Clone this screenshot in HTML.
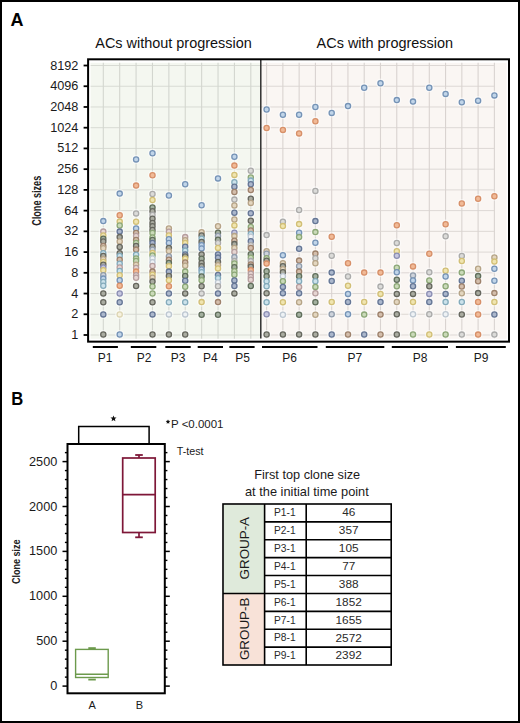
<!DOCTYPE html>
<html><head><meta charset="utf-8"><style>
html,body{margin:0;padding:0;background:#fff;width:520px;height:723px;overflow:hidden;font-family:"Liberation Sans",sans-serif;}
</style></head><body>
<svg width="520" height="723" viewBox="0 0 520 723" style="display:block">
<rect x="0" y="0" width="520" height="723" fill="#fff"/>
<rect x="90.6" y="62.8" width="170" height="276" fill="#f4f7f0"/>
<rect x="260.8" y="62.8" width="245.8" height="276" fill="#faf6f3"/>
<line x1="90.6" y1="335.00" x2="260" y2="335.00" stroke="#d8dbd4" stroke-width="1"/><line x1="261" y1="335.00" x2="494.38" y2="335.00" stroke="#ddd8d5" stroke-width="1"/><line x1="90.6" y1="314.27" x2="260" y2="314.27" stroke="#d8dbd4" stroke-width="1"/><line x1="261" y1="314.27" x2="494.38" y2="314.27" stroke="#ddd8d5" stroke-width="1"/><line x1="90.6" y1="293.54" x2="260" y2="293.54" stroke="#d8dbd4" stroke-width="1"/><line x1="261" y1="293.54" x2="494.38" y2="293.54" stroke="#ddd8d5" stroke-width="1"/><line x1="90.6" y1="272.81" x2="260" y2="272.81" stroke="#d8dbd4" stroke-width="1"/><line x1="261" y1="272.81" x2="494.38" y2="272.81" stroke="#ddd8d5" stroke-width="1"/><line x1="90.6" y1="252.08" x2="260" y2="252.08" stroke="#d8dbd4" stroke-width="1"/><line x1="261" y1="252.08" x2="494.38" y2="252.08" stroke="#ddd8d5" stroke-width="1"/><line x1="90.6" y1="231.35" x2="260" y2="231.35" stroke="#d8dbd4" stroke-width="1"/><line x1="261" y1="231.35" x2="494.38" y2="231.35" stroke="#ddd8d5" stroke-width="1"/><line x1="90.6" y1="210.62" x2="260" y2="210.62" stroke="#d8dbd4" stroke-width="1"/><line x1="261" y1="210.62" x2="494.38" y2="210.62" stroke="#ddd8d5" stroke-width="1"/><line x1="90.6" y1="189.89" x2="260" y2="189.89" stroke="#d8dbd4" stroke-width="1"/><line x1="261" y1="189.89" x2="494.38" y2="189.89" stroke="#ddd8d5" stroke-width="1"/><line x1="90.6" y1="169.16" x2="260" y2="169.16" stroke="#d8dbd4" stroke-width="1"/><line x1="261" y1="169.16" x2="494.38" y2="169.16" stroke="#ddd8d5" stroke-width="1"/><line x1="90.6" y1="148.43" x2="260" y2="148.43" stroke="#d8dbd4" stroke-width="1"/><line x1="261" y1="148.43" x2="494.38" y2="148.43" stroke="#ddd8d5" stroke-width="1"/><line x1="90.6" y1="127.70" x2="260" y2="127.70" stroke="#d8dbd4" stroke-width="1"/><line x1="261" y1="127.70" x2="494.38" y2="127.70" stroke="#ddd8d5" stroke-width="1"/><line x1="90.6" y1="106.97" x2="260" y2="106.97" stroke="#d8dbd4" stroke-width="1"/><line x1="261" y1="106.97" x2="494.38" y2="106.97" stroke="#ddd8d5" stroke-width="1"/><line x1="90.6" y1="86.24" x2="260" y2="86.24" stroke="#d8dbd4" stroke-width="1"/><line x1="261" y1="86.24" x2="494.38" y2="86.24" stroke="#ddd8d5" stroke-width="1"/><line x1="90.6" y1="65.51" x2="260" y2="65.51" stroke="#d8dbd4" stroke-width="1"/><line x1="261" y1="65.51" x2="494.38" y2="65.51" stroke="#ddd8d5" stroke-width="1"/><line x1="103.30" y1="62.8" x2="103.30" y2="338.8" stroke="#d3d6cf" stroke-width="1.1"/><line x1="119.69" y1="62.8" x2="119.69" y2="338.8" stroke="#d3d6cf" stroke-width="1.1"/><line x1="136.08" y1="62.8" x2="136.08" y2="338.8" stroke="#d3d6cf" stroke-width="1.1"/><line x1="152.47" y1="62.8" x2="152.47" y2="338.8" stroke="#d3d6cf" stroke-width="1.1"/><line x1="168.86" y1="62.8" x2="168.86" y2="338.8" stroke="#d3d6cf" stroke-width="1.1"/><line x1="185.25" y1="62.8" x2="185.25" y2="338.8" stroke="#d3d6cf" stroke-width="1.1"/><line x1="201.64" y1="62.8" x2="201.64" y2="338.8" stroke="#d3d6cf" stroke-width="1.1"/><line x1="218.03" y1="62.8" x2="218.03" y2="338.8" stroke="#d3d6cf" stroke-width="1.1"/><line x1="234.42" y1="62.8" x2="234.42" y2="338.8" stroke="#d3d6cf" stroke-width="1.1"/><line x1="250.81" y1="62.8" x2="250.81" y2="338.8" stroke="#d3d6cf" stroke-width="1.1"/><line x1="266.60" y1="62.8" x2="266.60" y2="338.8" stroke="#d9d3d0" stroke-width="1.1"/><line x1="282.87" y1="62.8" x2="282.87" y2="338.8" stroke="#d9d3d0" stroke-width="1.1"/><line x1="299.14" y1="62.8" x2="299.14" y2="338.8" stroke="#d9d3d0" stroke-width="1.1"/><line x1="315.41" y1="62.8" x2="315.41" y2="338.8" stroke="#d9d3d0" stroke-width="1.1"/><line x1="331.68" y1="62.8" x2="331.68" y2="338.8" stroke="#d9d3d0" stroke-width="1.1"/><line x1="347.95" y1="62.8" x2="347.95" y2="338.8" stroke="#d9d3d0" stroke-width="1.1"/><line x1="364.22" y1="62.8" x2="364.22" y2="338.8" stroke="#d9d3d0" stroke-width="1.1"/><line x1="380.49" y1="62.8" x2="380.49" y2="338.8" stroke="#d9d3d0" stroke-width="1.1"/><line x1="396.76" y1="62.8" x2="396.76" y2="338.8" stroke="#d9d3d0" stroke-width="1.1"/><line x1="413.03" y1="62.8" x2="413.03" y2="338.8" stroke="#d9d3d0" stroke-width="1.1"/><line x1="429.30" y1="62.8" x2="429.30" y2="338.8" stroke="#d9d3d0" stroke-width="1.1"/><line x1="445.57" y1="62.8" x2="445.57" y2="338.8" stroke="#d9d3d0" stroke-width="1.1"/><line x1="461.84" y1="62.8" x2="461.84" y2="338.8" stroke="#d9d3d0" stroke-width="1.1"/><line x1="478.11" y1="62.8" x2="478.11" y2="338.8" stroke="#d9d3d0" stroke-width="1.1"/><line x1="494.38" y1="62.8" x2="494.38" y2="338.8" stroke="#d9d3d0" stroke-width="1.1"/>
<line x1="260.8" y1="59.5" x2="260.8" y2="338.6" stroke="#222" stroke-width="1.4"/>
<g fill="#fff" opacity="0.55"><circle cx="103.3" cy="221.1" r="4.6"/><circle cx="103.3" cy="231.6" r="4.6"/><circle cx="103.3" cy="235.5" r="4.6"/><circle cx="103.3" cy="238.8" r="4.6"/><circle cx="103.3" cy="241.5" r="4.6"/><circle cx="103.3" cy="246.0" r="4.6"/><circle cx="103.3" cy="248.2" r="4.6"/><circle cx="103.3" cy="253.2" r="4.6"/><circle cx="103.3" cy="256.0" r="4.6"/><circle cx="103.3" cy="259.2" r="4.6"/><circle cx="103.3" cy="262.0" r="4.6"/><circle cx="103.3" cy="264.8" r="4.6"/><circle cx="103.3" cy="267.5" r="4.6"/><circle cx="103.3" cy="270.3" r="4.6"/><circle cx="103.3" cy="275.3" r="4.6"/><circle cx="103.3" cy="278.6" r="4.6"/><circle cx="103.3" cy="282.0" r="4.6"/><circle cx="103.3" cy="285.8" r="4.6"/><circle cx="103.3" cy="293.5" r="4.6"/><circle cx="103.3" cy="302.3" r="4.6"/><circle cx="103.3" cy="314.4" r="4.6"/><circle cx="103.3" cy="334.5" r="4.6"/><circle cx="119.7" cy="193.6" r="4.6"/><circle cx="119.7" cy="215.2" r="4.6"/><circle cx="119.7" cy="221.6" r="4.6"/><circle cx="119.7" cy="225.5" r="4.6"/><circle cx="119.7" cy="231.6" r="4.6"/><circle cx="119.7" cy="237.1" r="4.6"/><circle cx="119.7" cy="241.5" r="4.6"/><circle cx="119.7" cy="247.0" r="4.6"/><circle cx="119.7" cy="253.2" r="4.6"/><circle cx="119.7" cy="256.0" r="4.6"/><circle cx="119.7" cy="259.8" r="4.6"/><circle cx="119.7" cy="263.7" r="4.6"/><circle cx="119.7" cy="267.5" r="4.6"/><circle cx="119.7" cy="270.9" r="4.6"/><circle cx="119.7" cy="275.3" r="4.6"/><circle cx="119.7" cy="280.3" r="4.6"/><circle cx="119.7" cy="285.8" r="4.6"/><circle cx="119.7" cy="293.5" r="4.6"/><circle cx="119.7" cy="302.3" r="4.6"/><circle cx="119.7" cy="314.4" r="4.6"/><circle cx="119.7" cy="334.5" r="4.6"/><circle cx="136.1" cy="159.4" r="4.6"/><circle cx="136.1" cy="185.6" r="4.6"/><circle cx="136.1" cy="213.4" r="4.6"/><circle cx="136.1" cy="221.8" r="4.6"/><circle cx="136.1" cy="228.4" r="4.6"/><circle cx="136.1" cy="233.0" r="4.6"/><circle cx="136.1" cy="236.0" r="4.6"/><circle cx="136.1" cy="239.9" r="4.6"/><circle cx="136.1" cy="243.0" r="4.6"/><circle cx="136.1" cy="246.0" r="4.6"/><circle cx="136.1" cy="249.6" r="4.6"/><circle cx="136.1" cy="254.8" r="4.6"/><circle cx="136.1" cy="258.5" r="4.6"/><circle cx="136.1" cy="261.0" r="4.6"/><circle cx="136.1" cy="264.8" r="4.6"/><circle cx="136.1" cy="267.9" r="4.6"/><circle cx="136.1" cy="271.6" r="4.6"/><circle cx="136.1" cy="275.3" r="4.6"/><circle cx="136.1" cy="277.8" r="4.6"/><circle cx="136.1" cy="286.0" r="4.6"/><circle cx="152.5" cy="153.2" r="4.6"/><circle cx="152.5" cy="175.2" r="4.6"/><circle cx="152.5" cy="194.0" r="4.6"/><circle cx="152.5" cy="200.0" r="4.6"/><circle cx="152.5" cy="207.5" r="4.6"/><circle cx="152.5" cy="211.2" r="4.6"/><circle cx="152.5" cy="215.0" r="4.6"/><circle cx="152.5" cy="218.7" r="4.6"/><circle cx="152.5" cy="223.0" r="4.6"/><circle cx="152.5" cy="226.2" r="4.6"/><circle cx="152.5" cy="229.9" r="4.6"/><circle cx="152.5" cy="233.0" r="4.6"/><circle cx="152.5" cy="237.4" r="4.6"/><circle cx="152.5" cy="239.9" r="4.6"/><circle cx="152.5" cy="243.0" r="4.6"/><circle cx="152.5" cy="246.7" r="4.6"/><circle cx="152.5" cy="249.8" r="4.6"/><circle cx="152.5" cy="253.0" r="4.6"/><circle cx="152.5" cy="255.4" r="4.6"/><circle cx="152.5" cy="258.5" r="4.6"/><circle cx="152.5" cy="262.3" r="4.6"/><circle cx="152.5" cy="266.0" r="4.6"/><circle cx="152.5" cy="271.6" r="4.6"/><circle cx="152.5" cy="274.7" r="4.6"/><circle cx="152.5" cy="277.8" r="4.6"/><circle cx="152.5" cy="281.6" r="4.6"/><circle cx="152.5" cy="286.5" r="4.6"/><circle cx="152.5" cy="293.5" r="4.6"/><circle cx="152.5" cy="302.3" r="4.6"/><circle cx="152.5" cy="314.4" r="4.6"/><circle cx="152.5" cy="334.5" r="4.6"/><circle cx="168.9" cy="195.5" r="4.6"/><circle cx="168.9" cy="228.5" r="4.6"/><circle cx="168.9" cy="231.7" r="4.6"/><circle cx="168.9" cy="235.5" r="4.6"/><circle cx="168.9" cy="239.3" r="4.6"/><circle cx="168.9" cy="243.0" r="4.6"/><circle cx="168.9" cy="247.9" r="4.6"/><circle cx="168.9" cy="251.1" r="4.6"/><circle cx="168.9" cy="256.5" r="4.6"/><circle cx="168.9" cy="259.8" r="4.6"/><circle cx="168.9" cy="263.0" r="4.6"/><circle cx="168.9" cy="266.2" r="4.6"/><circle cx="168.9" cy="271.6" r="4.6"/><circle cx="168.9" cy="276.0" r="4.6"/><circle cx="168.9" cy="280.3" r="4.6"/><circle cx="168.9" cy="286.2" r="4.6"/><circle cx="168.9" cy="293.5" r="4.6"/><circle cx="168.9" cy="302.3" r="4.6"/><circle cx="168.9" cy="314.4" r="4.6"/><circle cx="168.9" cy="334.5" r="4.6"/><circle cx="185.2" cy="184.2" r="4.6"/><circle cx="185.2" cy="237.1" r="4.6"/><circle cx="185.2" cy="240.3" r="4.6"/><circle cx="185.2" cy="243.0" r="4.6"/><circle cx="185.2" cy="246.8" r="4.6"/><circle cx="185.2" cy="250.6" r="4.6"/><circle cx="185.2" cy="254.4" r="4.6"/><circle cx="185.2" cy="256.5" r="4.6"/><circle cx="185.2" cy="258.7" r="4.6"/><circle cx="185.2" cy="262.5" r="4.6"/><circle cx="185.2" cy="265.7" r="4.6"/><circle cx="185.2" cy="271.6" r="4.6"/><circle cx="185.2" cy="276.0" r="4.6"/><circle cx="185.2" cy="280.8" r="4.6"/><circle cx="185.2" cy="286.7" r="4.6"/><circle cx="185.2" cy="293.5" r="4.6"/><circle cx="185.2" cy="302.3" r="4.6"/><circle cx="185.2" cy="314.4" r="4.6"/><circle cx="185.2" cy="334.5" r="4.6"/><circle cx="201.6" cy="205.3" r="4.6"/><circle cx="201.6" cy="232.2" r="4.6"/><circle cx="201.6" cy="235.5" r="4.6"/><circle cx="201.6" cy="238.7" r="4.6"/><circle cx="201.6" cy="242.0" r="4.6"/><circle cx="201.6" cy="245.2" r="4.6"/><circle cx="201.6" cy="248.4" r="4.6"/><circle cx="201.6" cy="254.4" r="4.6"/><circle cx="201.6" cy="258.7" r="4.6"/><circle cx="201.6" cy="263.0" r="4.6"/><circle cx="201.6" cy="266.2" r="4.6"/><circle cx="201.6" cy="269.5" r="4.6"/><circle cx="201.6" cy="272.2" r="4.6"/><circle cx="201.6" cy="276.5" r="4.6"/><circle cx="201.6" cy="280.3" r="4.6"/><circle cx="201.6" cy="286.2" r="4.6"/><circle cx="201.6" cy="293.4" r="4.6"/><circle cx="201.6" cy="302.1" r="4.6"/><circle cx="201.6" cy="314.7" r="4.6"/><circle cx="218.0" cy="178.4" r="4.6"/><circle cx="218.0" cy="226.3" r="4.6"/><circle cx="218.0" cy="232.8" r="4.6"/><circle cx="218.0" cy="236.0" r="4.6"/><circle cx="218.0" cy="239.8" r="4.6"/><circle cx="218.0" cy="243.0" r="4.6"/><circle cx="218.0" cy="247.9" r="4.6"/><circle cx="218.0" cy="254.4" r="4.6"/><circle cx="218.0" cy="257.6" r="4.6"/><circle cx="218.0" cy="262.0" r="4.6"/><circle cx="218.0" cy="265.2" r="4.6"/><circle cx="218.0" cy="268.4" r="4.6"/><circle cx="218.0" cy="274.9" r="4.6"/><circle cx="218.0" cy="278.1" r="4.6"/><circle cx="218.0" cy="282.4" r="4.6"/><circle cx="218.0" cy="286.2" r="4.6"/><circle cx="218.0" cy="293.4" r="4.6"/><circle cx="218.0" cy="302.1" r="4.6"/><circle cx="218.0" cy="314.7" r="4.6"/><circle cx="234.4" cy="156.7" r="4.6"/><circle cx="234.4" cy="165.6" r="4.6"/><circle cx="234.4" cy="174.9" r="4.6"/><circle cx="234.4" cy="182.2" r="4.6"/><circle cx="234.4" cy="186.8" r="4.6"/><circle cx="234.4" cy="192.0" r="4.6"/><circle cx="234.4" cy="199.6" r="4.6"/><circle cx="234.4" cy="205.5" r="4.6"/><circle cx="234.4" cy="212.8" r="4.6"/><circle cx="234.4" cy="219.5" r="4.6"/><circle cx="234.4" cy="225.4" r="4.6"/><circle cx="234.4" cy="232.7" r="4.6"/><circle cx="234.4" cy="236.1" r="4.6"/><circle cx="234.4" cy="240.7" r="4.6"/><circle cx="234.4" cy="244.1" r="4.6"/><circle cx="234.4" cy="248.0" r="4.6"/><circle cx="234.4" cy="252.0" r="4.6"/><circle cx="234.4" cy="257.1" r="4.6"/><circle cx="234.4" cy="261.1" r="4.6"/><circle cx="234.4" cy="263.4" r="4.6"/><circle cx="234.4" cy="267.3" r="4.6"/><circle cx="234.4" cy="271.3" r="4.6"/><circle cx="234.4" cy="274.7" r="4.6"/><circle cx="234.4" cy="280.4" r="4.6"/><circle cx="234.4" cy="286.0" r="4.6"/><circle cx="234.4" cy="293.4" r="4.6"/><circle cx="250.8" cy="170.7" r="4.6"/><circle cx="250.8" cy="177.5" r="4.6"/><circle cx="250.8" cy="180.6" r="4.6"/><circle cx="250.8" cy="184.2" r="4.6"/><circle cx="250.8" cy="190.0" r="4.6"/><circle cx="250.8" cy="198.8" r="4.6"/><circle cx="250.8" cy="202.9" r="4.6"/><circle cx="250.8" cy="213.3" r="4.6"/><circle cx="250.8" cy="220.8" r="4.6"/><circle cx="250.8" cy="227.0" r="4.6"/><circle cx="250.8" cy="230.5" r="4.6"/><circle cx="250.8" cy="233.9" r="4.6"/><circle cx="250.8" cy="236.7" r="4.6"/><circle cx="250.8" cy="241.2" r="4.6"/><circle cx="250.8" cy="245.2" r="4.6"/><circle cx="250.8" cy="248.0" r="4.6"/><circle cx="250.8" cy="254.3" r="4.6"/><circle cx="250.8" cy="257.7" r="4.6"/><circle cx="250.8" cy="261.1" r="4.6"/><circle cx="250.8" cy="264.5" r="4.6"/><circle cx="250.8" cy="266.8" r="4.6"/><circle cx="250.8" cy="270.2" r="4.6"/><circle cx="250.8" cy="273.6" r="4.6"/><circle cx="250.8" cy="277.0" r="4.6"/><circle cx="250.8" cy="279.8" r="4.6"/><circle cx="250.8" cy="286.0" r="4.6"/><circle cx="266.6" cy="109.5" r="4.6"/><circle cx="266.6" cy="128.0" r="4.6"/><circle cx="266.6" cy="235.1" r="4.6"/><circle cx="266.6" cy="251.2" r="4.6"/><circle cx="266.6" cy="253.8" r="4.6"/><circle cx="266.6" cy="258.2" r="4.6"/><circle cx="266.6" cy="260.8" r="4.6"/><circle cx="266.6" cy="263.6" r="4.6"/><circle cx="266.6" cy="271.2" r="4.6"/><circle cx="266.6" cy="276.2" r="4.6"/><circle cx="266.6" cy="281.2" r="4.6"/><circle cx="266.6" cy="286.3" r="4.6"/><circle cx="266.6" cy="293.3" r="4.6"/><circle cx="266.6" cy="302.3" r="4.6"/><circle cx="266.6" cy="314.3" r="4.6"/><circle cx="266.6" cy="334.5" r="4.6"/><circle cx="282.9" cy="114.7" r="4.6"/><circle cx="282.9" cy="129.9" r="4.6"/><circle cx="282.9" cy="221.7" r="4.6"/><circle cx="282.9" cy="226.1" r="4.6"/><circle cx="282.9" cy="255.2" r="4.6"/><circle cx="282.9" cy="263.2" r="4.6"/><circle cx="282.9" cy="266.2" r="4.6"/><circle cx="282.9" cy="269.2" r="4.6"/><circle cx="282.9" cy="272.2" r="4.6"/><circle cx="282.9" cy="276.2" r="4.6"/><circle cx="282.9" cy="281.2" r="4.6"/><circle cx="282.9" cy="286.9" r="4.6"/><circle cx="282.9" cy="293.3" r="4.6"/><circle cx="282.9" cy="302.3" r="4.6"/><circle cx="282.9" cy="314.7" r="4.6"/><circle cx="282.9" cy="334.5" r="4.6"/><circle cx="299.1" cy="114.7" r="4.6"/><circle cx="299.1" cy="133.4" r="4.6"/><circle cx="299.1" cy="210.0" r="4.6"/><circle cx="299.1" cy="224.1" r="4.6"/><circle cx="299.1" cy="232.7" r="4.6"/><circle cx="299.1" cy="237.1" r="4.6"/><circle cx="299.1" cy="248.8" r="4.6"/><circle cx="299.1" cy="260.6" r="4.6"/><circle cx="299.1" cy="266.2" r="4.6"/><circle cx="299.1" cy="271.6" r="4.6"/><circle cx="299.1" cy="276.2" r="4.6"/><circle cx="299.1" cy="281.2" r="4.6"/><circle cx="299.1" cy="286.9" r="4.6"/><circle cx="299.1" cy="293.3" r="4.6"/><circle cx="299.1" cy="302.3" r="4.6"/><circle cx="299.1" cy="314.7" r="4.6"/><circle cx="299.1" cy="334.5" r="4.6"/><circle cx="315.4" cy="107.0" r="4.6"/><circle cx="315.4" cy="121.2" r="4.6"/><circle cx="315.4" cy="190.9" r="4.6"/><circle cx="315.4" cy="221.1" r="4.6"/><circle cx="315.4" cy="232.1" r="4.6"/><circle cx="315.4" cy="242.7" r="4.6"/><circle cx="315.4" cy="253.6" r="4.6"/><circle cx="315.4" cy="258.2" r="4.6"/><circle cx="315.4" cy="263.2" r="4.6"/><circle cx="315.4" cy="276.2" r="4.6"/><circle cx="315.4" cy="281.2" r="4.6"/><circle cx="315.4" cy="286.9" r="4.6"/><circle cx="315.4" cy="293.3" r="4.6"/><circle cx="315.4" cy="302.3" r="4.6"/><circle cx="315.4" cy="314.7" r="4.6"/><circle cx="315.4" cy="334.5" r="4.6"/><circle cx="331.7" cy="112.9" r="4.6"/><circle cx="331.7" cy="236.8" r="4.6"/><circle cx="331.7" cy="255.8" r="4.6"/><circle cx="331.7" cy="272.6" r="4.6"/><circle cx="331.7" cy="281.0" r="4.6"/><circle cx="331.7" cy="302.0" r="4.6"/><circle cx="331.7" cy="314.3" r="4.6"/><circle cx="331.7" cy="334.5" r="4.6"/><circle cx="348.0" cy="106.1" r="4.6"/><circle cx="348.0" cy="263.3" r="4.6"/><circle cx="348.0" cy="276.5" r="4.6"/><circle cx="348.0" cy="285.8" r="4.6"/><circle cx="348.0" cy="293.9" r="4.6"/><circle cx="348.0" cy="302.0" r="4.6"/><circle cx="348.0" cy="314.3" r="4.6"/><circle cx="348.0" cy="334.5" r="4.6"/><circle cx="364.2" cy="87.7" r="4.6"/><circle cx="364.2" cy="272.6" r="4.6"/><circle cx="364.2" cy="302.0" r="4.6"/><circle cx="364.2" cy="314.6" r="4.6"/><circle cx="364.2" cy="334.5" r="4.6"/><circle cx="380.5" cy="83.2" r="4.6"/><circle cx="380.5" cy="272.6" r="4.6"/><circle cx="380.5" cy="286.6" r="4.6"/><circle cx="380.5" cy="293.9" r="4.6"/><circle cx="380.5" cy="302.0" r="4.6"/><circle cx="380.5" cy="314.6" r="4.6"/><circle cx="380.5" cy="334.5" r="4.6"/><circle cx="396.8" cy="100.1" r="4.6"/><circle cx="396.8" cy="225.2" r="4.6"/><circle cx="396.8" cy="243.0" r="4.6"/><circle cx="396.8" cy="251.3" r="4.6"/><circle cx="396.8" cy="255.8" r="4.6"/><circle cx="396.8" cy="267.8" r="4.6"/><circle cx="396.8" cy="272.2" r="4.6"/><circle cx="396.8" cy="279.8" r="4.6"/><circle cx="396.8" cy="286.2" r="4.6"/><circle cx="396.8" cy="293.9" r="4.6"/><circle cx="396.8" cy="302.0" r="4.6"/><circle cx="396.8" cy="314.3" r="4.6"/><circle cx="396.8" cy="334.5" r="4.6"/><circle cx="413.0" cy="101.6" r="4.6"/><circle cx="413.0" cy="266.4" r="4.6"/><circle cx="413.0" cy="275.5" r="4.6"/><circle cx="413.0" cy="280.4" r="4.6"/><circle cx="413.0" cy="286.2" r="4.6"/><circle cx="413.0" cy="293.9" r="4.6"/><circle cx="413.0" cy="302.0" r="4.6"/><circle cx="413.0" cy="314.3" r="4.6"/><circle cx="413.0" cy="334.5" r="4.6"/><circle cx="429.3" cy="87.7" r="4.6"/><circle cx="429.3" cy="253.8" r="4.6"/><circle cx="429.3" cy="272.2" r="4.6"/><circle cx="429.3" cy="280.4" r="4.6"/><circle cx="429.3" cy="286.2" r="4.6"/><circle cx="429.3" cy="293.9" r="4.6"/><circle cx="429.3" cy="302.0" r="4.6"/><circle cx="429.3" cy="314.3" r="4.6"/><circle cx="429.3" cy="334.5" r="4.6"/><circle cx="445.6" cy="93.9" r="4.6"/><circle cx="445.6" cy="224.2" r="4.6"/><circle cx="445.6" cy="236.2" r="4.6"/><circle cx="445.6" cy="270.7" r="4.6"/><circle cx="445.6" cy="276.5" r="4.6"/><circle cx="445.6" cy="286.2" r="4.6"/><circle cx="445.6" cy="293.9" r="4.6"/><circle cx="445.6" cy="302.0" r="4.6"/><circle cx="445.6" cy="314.3" r="4.6"/><circle cx="445.6" cy="334.5" r="4.6"/><circle cx="461.8" cy="102.2" r="4.6"/><circle cx="461.8" cy="203.5" r="4.6"/><circle cx="461.8" cy="256.0" r="4.6"/><circle cx="461.8" cy="261.0" r="4.6"/><circle cx="461.8" cy="272.6" r="4.6"/><circle cx="461.8" cy="280.7" r="4.6"/><circle cx="461.8" cy="286.5" r="4.6"/><circle cx="461.8" cy="293.3" r="4.6"/><circle cx="461.8" cy="302.0" r="4.6"/><circle cx="461.8" cy="314.5" r="4.6"/><circle cx="461.8" cy="334.6" r="4.6"/><circle cx="478.1" cy="100.7" r="4.6"/><circle cx="478.1" cy="198.7" r="4.6"/><circle cx="478.1" cy="268.8" r="4.6"/><circle cx="478.1" cy="276.1" r="4.6"/><circle cx="478.1" cy="281.3" r="4.6"/><circle cx="478.1" cy="293.1" r="4.6"/><circle cx="478.1" cy="302.0" r="4.6"/><circle cx="478.1" cy="314.5" r="4.6"/><circle cx="478.1" cy="334.6" r="4.6"/><circle cx="494.4" cy="95.4" r="4.6"/><circle cx="494.4" cy="196.2" r="4.6"/><circle cx="494.4" cy="257.4" r="4.6"/><circle cx="494.4" cy="261.6" r="4.6"/><circle cx="494.4" cy="268.8" r="4.6"/><circle cx="494.4" cy="280.7" r="4.6"/><circle cx="494.4" cy="293.1" r="4.6"/><circle cx="494.4" cy="302.0" r="4.6"/><circle cx="494.4" cy="314.5" r="4.6"/><circle cx="494.4" cy="334.6" r="4.6"/></g>
<circle cx="103.3" cy="221.1" r="2.6" fill="#c1d5e9" stroke="#7593b6" stroke-width="1.3"/><circle cx="103.3" cy="231.6" r="2.6" fill="#e6d5d2" stroke="#b69e9e" stroke-width="1.3"/><circle cx="103.3" cy="235.5" r="2.6" fill="#f0e5b0" stroke="#d2bf76" stroke-width="1.3"/><circle cx="103.3" cy="238.8" r="2.6" fill="#a4b1a0" stroke="#606e5b" stroke-width="1.3"/><circle cx="103.3" cy="241.5" r="2.6" fill="#aaaca1" stroke="#66675e" stroke-width="1.3"/><circle cx="103.3" cy="246.0" r="2.6" fill="#d4beac" stroke="#9e826c" stroke-width="1.3"/><circle cx="103.3" cy="248.2" r="2.6" fill="#e3d6bf" stroke="#b6a487" stroke-width="1.3"/><circle cx="103.3" cy="253.2" r="2.6" fill="#cce2eb" stroke="#84abbb" stroke-width="1.3"/><circle cx="103.3" cy="256.0" r="2.6" fill="#aaaca1" stroke="#66675e" stroke-width="1.3"/><circle cx="103.3" cy="259.2" r="2.6" fill="#e3d6bf" stroke="#b6a487" stroke-width="1.3"/><circle cx="103.3" cy="262.0" r="2.6" fill="#f0e5b0" stroke="#d2bf76" stroke-width="1.3"/><circle cx="103.3" cy="264.8" r="2.6" fill="#aaaca1" stroke="#66675e" stroke-width="1.3"/><circle cx="103.3" cy="267.5" r="2.6" fill="#c6c7e0" stroke="#8b8eb3" stroke-width="1.3"/><circle cx="103.3" cy="270.3" r="2.6" fill="#f0e5b0" stroke="#d2bf76" stroke-width="1.3"/><circle cx="103.3" cy="275.3" r="2.6" fill="#ced3db" stroke="#909cab" stroke-width="1.3"/><circle cx="103.3" cy="278.6" r="2.6" fill="#c1d5e9" stroke="#7593b6" stroke-width="1.3"/><circle cx="103.3" cy="282.0" r="2.6" fill="#cce2eb" stroke="#84abbb" stroke-width="1.3"/><circle cx="103.3" cy="285.8" r="2.6" fill="#cce2eb" stroke="#84abbb" stroke-width="1.3"/><circle cx="103.3" cy="293.5" r="2.6" fill="#aaaca1" stroke="#66675e" stroke-width="1.3"/><circle cx="103.3" cy="302.3" r="2.6" fill="#aaaca1" stroke="#66675e" stroke-width="1.3"/><circle cx="103.3" cy="314.4" r="2.6" fill="#abb7cc" stroke="#657695" stroke-width="1.3"/><circle cx="103.3" cy="334.5" r="2.6" fill="#aaaca1" stroke="#66675e" stroke-width="1.3"/><circle cx="119.7" cy="193.6" r="2.6" fill="#c1d5e9" stroke="#7593b6" stroke-width="1.3"/><circle cx="119.7" cy="215.2" r="2.6" fill="#f1ba97" stroke="#d79069" stroke-width="1.3"/><circle cx="119.7" cy="221.6" r="2.6" fill="#f0e5b0" stroke="#d2bf76" stroke-width="1.3"/><circle cx="119.7" cy="225.5" r="2.6" fill="#cadab9" stroke="#8ca777" stroke-width="1.3"/><circle cx="119.7" cy="231.6" r="2.6" fill="#abb7cc" stroke="#657695" stroke-width="1.3"/><circle cx="119.7" cy="237.1" r="2.6" fill="#aaaca1" stroke="#66675e" stroke-width="1.3"/><circle cx="119.7" cy="241.5" r="2.6" fill="#e3d6bf" stroke="#b6a487" stroke-width="1.3"/><circle cx="119.7" cy="247.0" r="2.6" fill="#aaaca1" stroke="#66675e" stroke-width="1.3"/><circle cx="119.7" cy="253.2" r="2.6" fill="#aaaca1" stroke="#66675e" stroke-width="1.3"/><circle cx="119.7" cy="256.0" r="2.6" fill="#cce2eb" stroke="#84abbb" stroke-width="1.3"/><circle cx="119.7" cy="259.8" r="2.6" fill="#d4beac" stroke="#9e826c" stroke-width="1.3"/><circle cx="119.7" cy="263.7" r="2.6" fill="#cce2eb" stroke="#84abbb" stroke-width="1.3"/><circle cx="119.7" cy="267.5" r="2.6" fill="#e6d5d2" stroke="#b69e9e" stroke-width="1.3"/><circle cx="119.7" cy="270.9" r="2.6" fill="#cce2eb" stroke="#84abbb" stroke-width="1.3"/><circle cx="119.7" cy="275.3" r="2.6" fill="#f0e5b0" stroke="#d2bf76" stroke-width="1.3"/><circle cx="119.7" cy="280.3" r="2.6" fill="#c1d5e9" stroke="#7593b6" stroke-width="1.3"/><circle cx="119.7" cy="285.8" r="2.6" fill="#f1ba97" stroke="#d79069" stroke-width="1.3"/><circle cx="119.7" cy="293.5" r="2.6" fill="#c6c7e0" stroke="#8b8eb3" stroke-width="1.3"/><circle cx="119.7" cy="302.3" r="2.6" fill="#abb7cc" stroke="#657695" stroke-width="1.3"/><circle cx="119.7" cy="314.4" r="2.6" fill="#f7f2de" stroke="#ddd6b4" stroke-width="1.3"/><circle cx="119.7" cy="334.5" r="2.6" fill="#c1d5e9" stroke="#7593b6" stroke-width="1.3"/><circle cx="136.1" cy="159.4" r="2.6" fill="#c1d5e9" stroke="#7593b6" stroke-width="1.3"/><circle cx="136.1" cy="185.6" r="2.6" fill="#f1ba97" stroke="#d79069" stroke-width="1.3"/><circle cx="136.1" cy="213.4" r="2.6" fill="#dbdbd9" stroke="#ababaa" stroke-width="1.3"/><circle cx="136.1" cy="221.8" r="2.6" fill="#f0e5b0" stroke="#d2bf76" stroke-width="1.3"/><circle cx="136.1" cy="228.4" r="2.6" fill="#c1d5e9" stroke="#7593b6" stroke-width="1.3"/><circle cx="136.1" cy="233.0" r="2.6" fill="#d4beac" stroke="#9e826c" stroke-width="1.3"/><circle cx="136.1" cy="236.0" r="2.6" fill="#e6d5d2" stroke="#b69e9e" stroke-width="1.3"/><circle cx="136.1" cy="239.9" r="2.6" fill="#d4beac" stroke="#9e826c" stroke-width="1.3"/><circle cx="136.1" cy="243.0" r="2.6" fill="#cadab9" stroke="#8ca777" stroke-width="1.3"/><circle cx="136.1" cy="246.0" r="2.6" fill="#aaaca1" stroke="#66675e" stroke-width="1.3"/><circle cx="136.1" cy="249.6" r="2.6" fill="#d4beac" stroke="#9e826c" stroke-width="1.3"/><circle cx="136.1" cy="254.8" r="2.6" fill="#cce2eb" stroke="#84abbb" stroke-width="1.3"/><circle cx="136.1" cy="258.5" r="2.6" fill="#cadab9" stroke="#8ca777" stroke-width="1.3"/><circle cx="136.1" cy="261.0" r="2.6" fill="#cadab9" stroke="#8ca777" stroke-width="1.3"/><circle cx="136.1" cy="264.8" r="2.6" fill="#e3d6bf" stroke="#b6a487" stroke-width="1.3"/><circle cx="136.1" cy="267.9" r="2.6" fill="#e6d5d2" stroke="#b69e9e" stroke-width="1.3"/><circle cx="136.1" cy="271.6" r="2.6" fill="#f1ba97" stroke="#d79069" stroke-width="1.3"/><circle cx="136.1" cy="275.3" r="2.6" fill="#e6d5d2" stroke="#b69e9e" stroke-width="1.3"/><circle cx="136.1" cy="277.8" r="2.6" fill="#e6d5d2" stroke="#b69e9e" stroke-width="1.3"/><circle cx="136.1" cy="286.0" r="2.6" fill="#aaaca1" stroke="#66675e" stroke-width="1.3"/><circle cx="152.5" cy="153.2" r="2.6" fill="#c1d5e9" stroke="#7593b6" stroke-width="1.3"/><circle cx="152.5" cy="175.2" r="2.6" fill="#f1ba97" stroke="#d79069" stroke-width="1.3"/><circle cx="152.5" cy="194.0" r="2.6" fill="#dbdbd9" stroke="#ababaa" stroke-width="1.3"/><circle cx="152.5" cy="200.0" r="2.6" fill="#f0e5b0" stroke="#d2bf76" stroke-width="1.3"/><circle cx="152.5" cy="207.5" r="2.6" fill="#a4b1a0" stroke="#606e5b" stroke-width="1.3"/><circle cx="152.5" cy="211.2" r="2.6" fill="#aaaca1" stroke="#66675e" stroke-width="1.3"/><circle cx="152.5" cy="215.0" r="2.6" fill="#dbdbd9" stroke="#ababaa" stroke-width="1.3"/><circle cx="152.5" cy="218.7" r="2.6" fill="#aaaca1" stroke="#66675e" stroke-width="1.3"/><circle cx="152.5" cy="223.0" r="2.6" fill="#aaaca1" stroke="#66675e" stroke-width="1.3"/><circle cx="152.5" cy="226.2" r="2.6" fill="#aaaca1" stroke="#66675e" stroke-width="1.3"/><circle cx="152.5" cy="229.9" r="2.6" fill="#aaaca1" stroke="#66675e" stroke-width="1.3"/><circle cx="152.5" cy="233.0" r="2.6" fill="#cadab9" stroke="#8ca777" stroke-width="1.3"/><circle cx="152.5" cy="237.4" r="2.6" fill="#cadab9" stroke="#8ca777" stroke-width="1.3"/><circle cx="152.5" cy="239.9" r="2.6" fill="#a4b1a0" stroke="#606e5b" stroke-width="1.3"/><circle cx="152.5" cy="243.0" r="2.6" fill="#abb7cc" stroke="#657695" stroke-width="1.3"/><circle cx="152.5" cy="246.7" r="2.6" fill="#aaaca1" stroke="#66675e" stroke-width="1.3"/><circle cx="152.5" cy="249.8" r="2.6" fill="#ced3db" stroke="#909cab" stroke-width="1.3"/><circle cx="152.5" cy="253.0" r="2.6" fill="#f0e5b0" stroke="#d2bf76" stroke-width="1.3"/><circle cx="152.5" cy="255.4" r="2.6" fill="#cadab9" stroke="#8ca777" stroke-width="1.3"/><circle cx="152.5" cy="258.5" r="2.6" fill="#eef2f5" stroke="#bdc7d1" stroke-width="1.3"/><circle cx="152.5" cy="262.3" r="2.6" fill="#eef2f5" stroke="#bdc7d1" stroke-width="1.3"/><circle cx="152.5" cy="266.0" r="2.6" fill="#e6d5d2" stroke="#b69e9e" stroke-width="1.3"/><circle cx="152.5" cy="271.6" r="2.6" fill="#d4beac" stroke="#9e826c" stroke-width="1.3"/><circle cx="152.5" cy="274.7" r="2.6" fill="#f0e5b0" stroke="#d2bf76" stroke-width="1.3"/><circle cx="152.5" cy="277.8" r="2.6" fill="#e3d6bf" stroke="#b6a487" stroke-width="1.3"/><circle cx="152.5" cy="281.6" r="2.6" fill="#aaaca1" stroke="#66675e" stroke-width="1.3"/><circle cx="152.5" cy="286.5" r="2.6" fill="#cadab9" stroke="#8ca777" stroke-width="1.3"/><circle cx="152.5" cy="293.5" r="2.6" fill="#cadab9" stroke="#8ca777" stroke-width="1.3"/><circle cx="152.5" cy="302.3" r="2.6" fill="#aaaca1" stroke="#66675e" stroke-width="1.3"/><circle cx="152.5" cy="314.4" r="2.6" fill="#abb7cc" stroke="#657695" stroke-width="1.3"/><circle cx="152.5" cy="334.5" r="2.6" fill="#aaaca1" stroke="#66675e" stroke-width="1.3"/><circle cx="168.9" cy="195.5" r="2.6" fill="#c1d5e9" stroke="#7593b6" stroke-width="1.3"/><circle cx="168.9" cy="228.5" r="2.6" fill="#e3d6bf" stroke="#b6a487" stroke-width="1.3"/><circle cx="168.9" cy="231.7" r="2.6" fill="#e6d5d2" stroke="#b69e9e" stroke-width="1.3"/><circle cx="168.9" cy="235.5" r="2.6" fill="#f0e5b0" stroke="#d2bf76" stroke-width="1.3"/><circle cx="168.9" cy="239.3" r="2.6" fill="#c1d5e9" stroke="#7593b6" stroke-width="1.3"/><circle cx="168.9" cy="243.0" r="2.6" fill="#c1d5e9" stroke="#7593b6" stroke-width="1.3"/><circle cx="168.9" cy="247.9" r="2.6" fill="#aaaca1" stroke="#66675e" stroke-width="1.3"/><circle cx="168.9" cy="251.1" r="2.6" fill="#e3d6bf" stroke="#b6a487" stroke-width="1.3"/><circle cx="168.9" cy="256.5" r="2.6" fill="#ced3db" stroke="#909cab" stroke-width="1.3"/><circle cx="168.9" cy="259.8" r="2.6" fill="#d4beac" stroke="#9e826c" stroke-width="1.3"/><circle cx="168.9" cy="263.0" r="2.6" fill="#a4b1a0" stroke="#606e5b" stroke-width="1.3"/><circle cx="168.9" cy="266.2" r="2.6" fill="#f0e5b0" stroke="#d2bf76" stroke-width="1.3"/><circle cx="168.9" cy="271.6" r="2.6" fill="#abb7cc" stroke="#657695" stroke-width="1.3"/><circle cx="168.9" cy="276.0" r="2.6" fill="#aaaca1" stroke="#66675e" stroke-width="1.3"/><circle cx="168.9" cy="280.3" r="2.6" fill="#f0e5b0" stroke="#d2bf76" stroke-width="1.3"/><circle cx="168.9" cy="286.2" r="2.6" fill="#f1ba97" stroke="#d79069" stroke-width="1.3"/><circle cx="168.9" cy="293.5" r="2.6" fill="#abb7cc" stroke="#657695" stroke-width="1.3"/><circle cx="168.9" cy="302.3" r="2.6" fill="#cce2eb" stroke="#84abbb" stroke-width="1.3"/><circle cx="168.9" cy="314.4" r="2.6" fill="#eef2f5" stroke="#bdc7d1" stroke-width="1.3"/><circle cx="168.9" cy="334.5" r="2.6" fill="#aaaca1" stroke="#66675e" stroke-width="1.3"/><circle cx="185.2" cy="184.2" r="2.6" fill="#c1d5e9" stroke="#7593b6" stroke-width="1.3"/><circle cx="185.2" cy="237.1" r="2.6" fill="#e6d5d2" stroke="#b69e9e" stroke-width="1.3"/><circle cx="185.2" cy="240.3" r="2.6" fill="#e3d6bf" stroke="#b6a487" stroke-width="1.3"/><circle cx="185.2" cy="243.0" r="2.6" fill="#f0e5b0" stroke="#d2bf76" stroke-width="1.3"/><circle cx="185.2" cy="246.8" r="2.6" fill="#abb7cc" stroke="#657695" stroke-width="1.3"/><circle cx="185.2" cy="250.6" r="2.6" fill="#cce2eb" stroke="#84abbb" stroke-width="1.3"/><circle cx="185.2" cy="254.4" r="2.6" fill="#abb7cc" stroke="#657695" stroke-width="1.3"/><circle cx="185.2" cy="256.5" r="2.6" fill="#aaaca1" stroke="#66675e" stroke-width="1.3"/><circle cx="185.2" cy="258.7" r="2.6" fill="#f0e5b0" stroke="#d2bf76" stroke-width="1.3"/><circle cx="185.2" cy="262.5" r="2.6" fill="#d4beac" stroke="#9e826c" stroke-width="1.3"/><circle cx="185.2" cy="265.7" r="2.6" fill="#e3d6bf" stroke="#b6a487" stroke-width="1.3"/><circle cx="185.2" cy="271.6" r="2.6" fill="#cadab9" stroke="#8ca777" stroke-width="1.3"/><circle cx="185.2" cy="276.0" r="2.6" fill="#a4b1a0" stroke="#606e5b" stroke-width="1.3"/><circle cx="185.2" cy="280.8" r="2.6" fill="#abb7cc" stroke="#657695" stroke-width="1.3"/><circle cx="185.2" cy="286.7" r="2.6" fill="#cadab9" stroke="#8ca777" stroke-width="1.3"/><circle cx="185.2" cy="293.5" r="2.6" fill="#aaaca1" stroke="#66675e" stroke-width="1.3"/><circle cx="185.2" cy="302.3" r="2.6" fill="#cce2eb" stroke="#84abbb" stroke-width="1.3"/><circle cx="185.2" cy="314.4" r="2.6" fill="#eef2f5" stroke="#bdc7d1" stroke-width="1.3"/><circle cx="185.2" cy="334.5" r="2.6" fill="#aaaca1" stroke="#66675e" stroke-width="1.3"/><circle cx="201.6" cy="205.3" r="2.6" fill="#c1d5e9" stroke="#7593b6" stroke-width="1.3"/><circle cx="201.6" cy="232.2" r="2.6" fill="#e3d6bf" stroke="#b6a487" stroke-width="1.3"/><circle cx="201.6" cy="235.5" r="2.6" fill="#aaaca1" stroke="#66675e" stroke-width="1.3"/><circle cx="201.6" cy="238.7" r="2.6" fill="#cce2eb" stroke="#84abbb" stroke-width="1.3"/><circle cx="201.6" cy="242.0" r="2.6" fill="#aaaca1" stroke="#66675e" stroke-width="1.3"/><circle cx="201.6" cy="245.2" r="2.6" fill="#c1d5e9" stroke="#7593b6" stroke-width="1.3"/><circle cx="201.6" cy="248.4" r="2.6" fill="#c1d5e9" stroke="#7593b6" stroke-width="1.3"/><circle cx="201.6" cy="254.4" r="2.6" fill="#aaaca1" stroke="#66675e" stroke-width="1.3"/><circle cx="201.6" cy="258.7" r="2.6" fill="#a4b1a0" stroke="#606e5b" stroke-width="1.3"/><circle cx="201.6" cy="263.0" r="2.6" fill="#aaaca1" stroke="#66675e" stroke-width="1.3"/><circle cx="201.6" cy="266.2" r="2.6" fill="#aaaca1" stroke="#66675e" stroke-width="1.3"/><circle cx="201.6" cy="269.5" r="2.6" fill="#c1d5e9" stroke="#7593b6" stroke-width="1.3"/><circle cx="201.6" cy="272.2" r="2.6" fill="#cce2eb" stroke="#84abbb" stroke-width="1.3"/><circle cx="201.6" cy="276.5" r="2.6" fill="#a4b1a0" stroke="#606e5b" stroke-width="1.3"/><circle cx="201.6" cy="280.3" r="2.6" fill="#cadab9" stroke="#8ca777" stroke-width="1.3"/><circle cx="201.6" cy="286.2" r="2.6" fill="#aaaca1" stroke="#66675e" stroke-width="1.3"/><circle cx="201.6" cy="293.4" r="2.6" fill="#dbdbd9" stroke="#ababaa" stroke-width="1.3"/><circle cx="201.6" cy="302.1" r="2.6" fill="#f0e5b0" stroke="#d2bf76" stroke-width="1.3"/><circle cx="201.6" cy="314.7" r="2.6" fill="#a4b1a0" stroke="#606e5b" stroke-width="1.3"/><circle cx="218.0" cy="178.4" r="2.6" fill="#c1d5e9" stroke="#7593b6" stroke-width="1.3"/><circle cx="218.0" cy="226.3" r="2.6" fill="#e3d6bf" stroke="#b6a487" stroke-width="1.3"/><circle cx="218.0" cy="232.8" r="2.6" fill="#a4b1a0" stroke="#606e5b" stroke-width="1.3"/><circle cx="218.0" cy="236.0" r="2.6" fill="#ced3db" stroke="#909cab" stroke-width="1.3"/><circle cx="218.0" cy="239.8" r="2.6" fill="#a4b1a0" stroke="#606e5b" stroke-width="1.3"/><circle cx="218.0" cy="243.0" r="2.6" fill="#dbdbd9" stroke="#ababaa" stroke-width="1.3"/><circle cx="218.0" cy="247.9" r="2.6" fill="#f0e5b0" stroke="#d2bf76" stroke-width="1.3"/><circle cx="218.0" cy="254.4" r="2.6" fill="#abb7cc" stroke="#657695" stroke-width="1.3"/><circle cx="218.0" cy="257.6" r="2.6" fill="#abb7cc" stroke="#657695" stroke-width="1.3"/><circle cx="218.0" cy="262.0" r="2.6" fill="#aaaca1" stroke="#66675e" stroke-width="1.3"/><circle cx="218.0" cy="265.2" r="2.6" fill="#e3d6bf" stroke="#b6a487" stroke-width="1.3"/><circle cx="218.0" cy="268.4" r="2.6" fill="#f0e5b0" stroke="#d2bf76" stroke-width="1.3"/><circle cx="218.0" cy="274.9" r="2.6" fill="#abb7cc" stroke="#657695" stroke-width="1.3"/><circle cx="218.0" cy="278.1" r="2.6" fill="#cce2eb" stroke="#84abbb" stroke-width="1.3"/><circle cx="218.0" cy="282.4" r="2.6" fill="#eef2f5" stroke="#bdc7d1" stroke-width="1.3"/><circle cx="218.0" cy="286.2" r="2.6" fill="#dbdbd9" stroke="#ababaa" stroke-width="1.3"/><circle cx="218.0" cy="293.4" r="2.6" fill="#abb7cc" stroke="#657695" stroke-width="1.3"/><circle cx="218.0" cy="302.1" r="2.6" fill="#d4beac" stroke="#9e826c" stroke-width="1.3"/><circle cx="218.0" cy="314.7" r="2.6" fill="#a4b1a0" stroke="#606e5b" stroke-width="1.3"/><circle cx="234.4" cy="156.7" r="2.6" fill="#c1d5e9" stroke="#7593b6" stroke-width="1.3"/><circle cx="234.4" cy="165.6" r="2.6" fill="#f1ba97" stroke="#d79069" stroke-width="1.3"/><circle cx="234.4" cy="174.9" r="2.6" fill="#f0e5b0" stroke="#d2bf76" stroke-width="1.3"/><circle cx="234.4" cy="182.2" r="2.6" fill="#cce2eb" stroke="#84abbb" stroke-width="1.3"/><circle cx="234.4" cy="186.8" r="2.6" fill="#abb7cc" stroke="#657695" stroke-width="1.3"/><circle cx="234.4" cy="192.0" r="2.6" fill="#d4beac" stroke="#9e826c" stroke-width="1.3"/><circle cx="234.4" cy="199.6" r="2.6" fill="#dbdbd9" stroke="#ababaa" stroke-width="1.3"/><circle cx="234.4" cy="205.5" r="2.6" fill="#e3d6bf" stroke="#b6a487" stroke-width="1.3"/><circle cx="234.4" cy="212.8" r="2.6" fill="#abb7cc" stroke="#657695" stroke-width="1.3"/><circle cx="234.4" cy="219.5" r="2.6" fill="#e3d6bf" stroke="#b6a487" stroke-width="1.3"/><circle cx="234.4" cy="225.4" r="2.6" fill="#f0e5b0" stroke="#d2bf76" stroke-width="1.3"/><circle cx="234.4" cy="232.7" r="2.6" fill="#c6c7e0" stroke="#8b8eb3" stroke-width="1.3"/><circle cx="234.4" cy="236.1" r="2.6" fill="#e3d6bf" stroke="#b6a487" stroke-width="1.3"/><circle cx="234.4" cy="240.7" r="2.6" fill="#d4beac" stroke="#9e826c" stroke-width="1.3"/><circle cx="234.4" cy="244.1" r="2.6" fill="#aaaca1" stroke="#66675e" stroke-width="1.3"/><circle cx="234.4" cy="248.0" r="2.6" fill="#e3d6bf" stroke="#b6a487" stroke-width="1.3"/><circle cx="234.4" cy="252.0" r="2.6" fill="#e6d5d2" stroke="#b69e9e" stroke-width="1.3"/><circle cx="234.4" cy="257.1" r="2.6" fill="#ced3db" stroke="#909cab" stroke-width="1.3"/><circle cx="234.4" cy="261.1" r="2.6" fill="#dbdbd9" stroke="#ababaa" stroke-width="1.3"/><circle cx="234.4" cy="263.4" r="2.6" fill="#cadab9" stroke="#8ca777" stroke-width="1.3"/><circle cx="234.4" cy="267.3" r="2.6" fill="#a4b1a0" stroke="#606e5b" stroke-width="1.3"/><circle cx="234.4" cy="271.3" r="2.6" fill="#cadab9" stroke="#8ca777" stroke-width="1.3"/><circle cx="234.4" cy="274.7" r="2.6" fill="#cadab9" stroke="#8ca777" stroke-width="1.3"/><circle cx="234.4" cy="280.4" r="2.6" fill="#abb7cc" stroke="#657695" stroke-width="1.3"/><circle cx="234.4" cy="286.0" r="2.6" fill="#abb7cc" stroke="#657695" stroke-width="1.3"/><circle cx="234.4" cy="293.4" r="2.6" fill="#aaaca1" stroke="#66675e" stroke-width="1.3"/><circle cx="250.8" cy="170.7" r="2.6" fill="#dbdbd9" stroke="#ababaa" stroke-width="1.3"/><circle cx="250.8" cy="177.5" r="2.6" fill="#cadab9" stroke="#8ca777" stroke-width="1.3"/><circle cx="250.8" cy="180.6" r="2.6" fill="#cce2eb" stroke="#84abbb" stroke-width="1.3"/><circle cx="250.8" cy="184.2" r="2.6" fill="#abb7cc" stroke="#657695" stroke-width="1.3"/><circle cx="250.8" cy="190.0" r="2.6" fill="#d4beac" stroke="#9e826c" stroke-width="1.3"/><circle cx="250.8" cy="198.8" r="2.6" fill="#aaaca1" stroke="#66675e" stroke-width="1.3"/><circle cx="250.8" cy="202.9" r="2.6" fill="#e3d6bf" stroke="#b6a487" stroke-width="1.3"/><circle cx="250.8" cy="213.3" r="2.6" fill="#abb7cc" stroke="#657695" stroke-width="1.3"/><circle cx="250.8" cy="220.8" r="2.6" fill="#aaaca1" stroke="#66675e" stroke-width="1.3"/><circle cx="250.8" cy="227.0" r="2.6" fill="#cadab9" stroke="#8ca777" stroke-width="1.3"/><circle cx="250.8" cy="230.5" r="2.6" fill="#d4beac" stroke="#9e826c" stroke-width="1.3"/><circle cx="250.8" cy="233.9" r="2.6" fill="#cce2eb" stroke="#84abbb" stroke-width="1.3"/><circle cx="250.8" cy="236.7" r="2.6" fill="#eef2f5" stroke="#bdc7d1" stroke-width="1.3"/><circle cx="250.8" cy="241.2" r="2.6" fill="#abb7cc" stroke="#657695" stroke-width="1.3"/><circle cx="250.8" cy="245.2" r="2.6" fill="#dbdbd9" stroke="#ababaa" stroke-width="1.3"/><circle cx="250.8" cy="248.0" r="2.6" fill="#d4beac" stroke="#9e826c" stroke-width="1.3"/><circle cx="250.8" cy="254.3" r="2.6" fill="#a4b1a0" stroke="#606e5b" stroke-width="1.3"/><circle cx="250.8" cy="257.7" r="2.6" fill="#cadab9" stroke="#8ca777" stroke-width="1.3"/><circle cx="250.8" cy="261.1" r="2.6" fill="#dbdbd9" stroke="#ababaa" stroke-width="1.3"/><circle cx="250.8" cy="264.5" r="2.6" fill="#d4beac" stroke="#9e826c" stroke-width="1.3"/><circle cx="250.8" cy="266.8" r="2.6" fill="#aaaca1" stroke="#66675e" stroke-width="1.3"/><circle cx="250.8" cy="270.2" r="2.6" fill="#f1ba97" stroke="#d79069" stroke-width="1.3"/><circle cx="250.8" cy="273.6" r="2.6" fill="#e6d5d2" stroke="#b69e9e" stroke-width="1.3"/><circle cx="250.8" cy="277.0" r="2.6" fill="#e6d5d2" stroke="#b69e9e" stroke-width="1.3"/><circle cx="250.8" cy="279.8" r="2.6" fill="#e6d5d2" stroke="#b69e9e" stroke-width="1.3"/><circle cx="250.8" cy="286.0" r="2.6" fill="#a4b1a0" stroke="#606e5b" stroke-width="1.3"/><circle cx="266.6" cy="109.5" r="2.6" fill="#c1d5e9" stroke="#7593b6" stroke-width="1.3"/><circle cx="266.6" cy="128.0" r="2.6" fill="#f1ba97" stroke="#d79069" stroke-width="1.3"/><circle cx="266.6" cy="235.1" r="2.6" fill="#dbdbd9" stroke="#ababaa" stroke-width="1.3"/><circle cx="266.6" cy="251.2" r="2.6" fill="#e3d6bf" stroke="#b6a487" stroke-width="1.3"/><circle cx="266.6" cy="253.8" r="2.6" fill="#ced3db" stroke="#909cab" stroke-width="1.3"/><circle cx="266.6" cy="258.2" r="2.6" fill="#cadab9" stroke="#8ca777" stroke-width="1.3"/><circle cx="266.6" cy="260.8" r="2.6" fill="#aaaca1" stroke="#66675e" stroke-width="1.3"/><circle cx="266.6" cy="263.6" r="2.6" fill="#f1ba97" stroke="#d79069" stroke-width="1.3"/><circle cx="266.6" cy="271.2" r="2.6" fill="#a4b1a0" stroke="#606e5b" stroke-width="1.3"/><circle cx="266.6" cy="276.2" r="2.6" fill="#a4b1a0" stroke="#606e5b" stroke-width="1.3"/><circle cx="266.6" cy="281.2" r="2.6" fill="#cce2eb" stroke="#84abbb" stroke-width="1.3"/><circle cx="266.6" cy="286.3" r="2.6" fill="#cce2eb" stroke="#84abbb" stroke-width="1.3"/><circle cx="266.6" cy="293.3" r="2.6" fill="#aaaca1" stroke="#66675e" stroke-width="1.3"/><circle cx="266.6" cy="302.3" r="2.6" fill="#cce2eb" stroke="#84abbb" stroke-width="1.3"/><circle cx="266.6" cy="314.3" r="2.6" fill="#c6c7e0" stroke="#8b8eb3" stroke-width="1.3"/><circle cx="266.6" cy="334.5" r="2.6" fill="#aaaca1" stroke="#66675e" stroke-width="1.3"/><circle cx="282.9" cy="114.7" r="2.6" fill="#c1d5e9" stroke="#7593b6" stroke-width="1.3"/><circle cx="282.9" cy="129.9" r="2.6" fill="#f1ba97" stroke="#d79069" stroke-width="1.3"/><circle cx="282.9" cy="221.7" r="2.6" fill="#dbdbd9" stroke="#ababaa" stroke-width="1.3"/><circle cx="282.9" cy="226.1" r="2.6" fill="#f0e5b0" stroke="#d2bf76" stroke-width="1.3"/><circle cx="282.9" cy="255.2" r="2.6" fill="#c1d5e9" stroke="#7593b6" stroke-width="1.3"/><circle cx="282.9" cy="263.2" r="2.6" fill="#e3d6bf" stroke="#b6a487" stroke-width="1.3"/><circle cx="282.9" cy="266.2" r="2.6" fill="#aaaca1" stroke="#66675e" stroke-width="1.3"/><circle cx="282.9" cy="269.2" r="2.6" fill="#e3d6bf" stroke="#b6a487" stroke-width="1.3"/><circle cx="282.9" cy="272.2" r="2.6" fill="#aaaca1" stroke="#66675e" stroke-width="1.3"/><circle cx="282.9" cy="276.2" r="2.6" fill="#eef2f5" stroke="#bdc7d1" stroke-width="1.3"/><circle cx="282.9" cy="281.2" r="2.6" fill="#cadab9" stroke="#8ca777" stroke-width="1.3"/><circle cx="282.9" cy="286.9" r="2.6" fill="#abb7cc" stroke="#657695" stroke-width="1.3"/><circle cx="282.9" cy="293.3" r="2.6" fill="#abb7cc" stroke="#657695" stroke-width="1.3"/><circle cx="282.9" cy="302.3" r="2.6" fill="#f0e5b0" stroke="#d2bf76" stroke-width="1.3"/><circle cx="282.9" cy="314.7" r="2.6" fill="#eef2f5" stroke="#bdc7d1" stroke-width="1.3"/><circle cx="282.9" cy="334.5" r="2.6" fill="#aaaca1" stroke="#66675e" stroke-width="1.3"/><circle cx="299.1" cy="114.7" r="2.6" fill="#c1d5e9" stroke="#7593b6" stroke-width="1.3"/><circle cx="299.1" cy="133.4" r="2.6" fill="#f1ba97" stroke="#d79069" stroke-width="1.3"/><circle cx="299.1" cy="210.0" r="2.6" fill="#dbdbd9" stroke="#ababaa" stroke-width="1.3"/><circle cx="299.1" cy="224.1" r="2.6" fill="#f0e5b0" stroke="#d2bf76" stroke-width="1.3"/><circle cx="299.1" cy="232.7" r="2.6" fill="#c1d5e9" stroke="#7593b6" stroke-width="1.3"/><circle cx="299.1" cy="237.1" r="2.6" fill="#cadab9" stroke="#8ca777" stroke-width="1.3"/><circle cx="299.1" cy="248.8" r="2.6" fill="#abb7cc" stroke="#657695" stroke-width="1.3"/><circle cx="299.1" cy="260.6" r="2.6" fill="#d4beac" stroke="#9e826c" stroke-width="1.3"/><circle cx="299.1" cy="266.2" r="2.6" fill="#ced3db" stroke="#909cab" stroke-width="1.3"/><circle cx="299.1" cy="271.6" r="2.6" fill="#d4beac" stroke="#9e826c" stroke-width="1.3"/><circle cx="299.1" cy="276.2" r="2.6" fill="#a4b1a0" stroke="#606e5b" stroke-width="1.3"/><circle cx="299.1" cy="281.2" r="2.6" fill="#cce2eb" stroke="#84abbb" stroke-width="1.3"/><circle cx="299.1" cy="286.9" r="2.6" fill="#e6d5d2" stroke="#b69e9e" stroke-width="1.3"/><circle cx="299.1" cy="293.3" r="2.6" fill="#abb7cc" stroke="#657695" stroke-width="1.3"/><circle cx="299.1" cy="302.3" r="2.6" fill="#e3d6bf" stroke="#b6a487" stroke-width="1.3"/><circle cx="299.1" cy="314.7" r="2.6" fill="#a4b1a0" stroke="#606e5b" stroke-width="1.3"/><circle cx="299.1" cy="334.5" r="2.6" fill="#aaaca1" stroke="#66675e" stroke-width="1.3"/><circle cx="315.4" cy="107.0" r="2.6" fill="#c1d5e9" stroke="#7593b6" stroke-width="1.3"/><circle cx="315.4" cy="121.2" r="2.6" fill="#f1ba97" stroke="#d79069" stroke-width="1.3"/><circle cx="315.4" cy="190.9" r="2.6" fill="#dbdbd9" stroke="#ababaa" stroke-width="1.3"/><circle cx="315.4" cy="221.1" r="2.6" fill="#abb7cc" stroke="#657695" stroke-width="1.3"/><circle cx="315.4" cy="232.1" r="2.6" fill="#cadab9" stroke="#8ca777" stroke-width="1.3"/><circle cx="315.4" cy="242.7" r="2.6" fill="#c1d5e9" stroke="#7593b6" stroke-width="1.3"/><circle cx="315.4" cy="253.6" r="2.6" fill="#d4beac" stroke="#9e826c" stroke-width="1.3"/><circle cx="315.4" cy="258.2" r="2.6" fill="#dbdbd9" stroke="#ababaa" stroke-width="1.3"/><circle cx="315.4" cy="263.2" r="2.6" fill="#e3d6bf" stroke="#b6a487" stroke-width="1.3"/><circle cx="315.4" cy="276.2" r="2.6" fill="#a4b1a0" stroke="#606e5b" stroke-width="1.3"/><circle cx="315.4" cy="281.2" r="2.6" fill="#cce2eb" stroke="#84abbb" stroke-width="1.3"/><circle cx="315.4" cy="286.9" r="2.6" fill="#cadab9" stroke="#8ca777" stroke-width="1.3"/><circle cx="315.4" cy="293.3" r="2.6" fill="#e6d5d2" stroke="#b69e9e" stroke-width="1.3"/><circle cx="315.4" cy="302.3" r="2.6" fill="#a4b1a0" stroke="#606e5b" stroke-width="1.3"/><circle cx="315.4" cy="314.7" r="2.6" fill="#e3d6bf" stroke="#b6a487" stroke-width="1.3"/><circle cx="315.4" cy="334.5" r="2.6" fill="#aaaca1" stroke="#66675e" stroke-width="1.3"/><circle cx="331.7" cy="112.9" r="2.6" fill="#c1d5e9" stroke="#7593b6" stroke-width="1.3"/><circle cx="331.7" cy="236.8" r="2.6" fill="#f1ba97" stroke="#d79069" stroke-width="1.3"/><circle cx="331.7" cy="255.8" r="2.6" fill="#dbdbd9" stroke="#ababaa" stroke-width="1.3"/><circle cx="331.7" cy="272.6" r="2.6" fill="#abb7cc" stroke="#657695" stroke-width="1.3"/><circle cx="331.7" cy="281.0" r="2.6" fill="#abb7cc" stroke="#657695" stroke-width="1.3"/><circle cx="331.7" cy="302.0" r="2.6" fill="#f0e5b0" stroke="#d2bf76" stroke-width="1.3"/><circle cx="331.7" cy="314.3" r="2.6" fill="#ced3db" stroke="#909cab" stroke-width="1.3"/><circle cx="331.7" cy="334.5" r="2.6" fill="#abb7cc" stroke="#657695" stroke-width="1.3"/><circle cx="348.0" cy="106.1" r="2.6" fill="#c1d5e9" stroke="#7593b6" stroke-width="1.3"/><circle cx="348.0" cy="263.3" r="2.6" fill="#f1ba97" stroke="#d79069" stroke-width="1.3"/><circle cx="348.0" cy="276.5" r="2.6" fill="#dbdbd9" stroke="#ababaa" stroke-width="1.3"/><circle cx="348.0" cy="285.8" r="2.6" fill="#f0e5b0" stroke="#d2bf76" stroke-width="1.3"/><circle cx="348.0" cy="293.9" r="2.6" fill="#c1d5e9" stroke="#7593b6" stroke-width="1.3"/><circle cx="348.0" cy="302.0" r="2.6" fill="#abb7cc" stroke="#657695" stroke-width="1.3"/><circle cx="348.0" cy="314.3" r="2.6" fill="#c1d5e9" stroke="#7593b6" stroke-width="1.3"/><circle cx="348.0" cy="334.5" r="2.6" fill="#d4beac" stroke="#9e826c" stroke-width="1.3"/><circle cx="364.2" cy="87.7" r="2.6" fill="#c1d5e9" stroke="#7593b6" stroke-width="1.3"/><circle cx="364.2" cy="272.6" r="2.6" fill="#f1ba97" stroke="#d79069" stroke-width="1.3"/><circle cx="364.2" cy="302.0" r="2.6" fill="#f0e5b0" stroke="#d2bf76" stroke-width="1.3"/><circle cx="364.2" cy="314.6" r="2.6" fill="#cadab9" stroke="#8ca777" stroke-width="1.3"/><circle cx="364.2" cy="334.5" r="2.6" fill="#abb7cc" stroke="#657695" stroke-width="1.3"/><circle cx="380.5" cy="83.2" r="2.6" fill="#c1d5e9" stroke="#7593b6" stroke-width="1.3"/><circle cx="380.5" cy="272.6" r="2.6" fill="#f1ba97" stroke="#d79069" stroke-width="1.3"/><circle cx="380.5" cy="286.6" r="2.6" fill="#dbdbd9" stroke="#ababaa" stroke-width="1.3"/><circle cx="380.5" cy="293.9" r="2.6" fill="#f0e5b0" stroke="#d2bf76" stroke-width="1.3"/><circle cx="380.5" cy="302.0" r="2.6" fill="#abb7cc" stroke="#657695" stroke-width="1.3"/><circle cx="380.5" cy="314.6" r="2.6" fill="#d4beac" stroke="#9e826c" stroke-width="1.3"/><circle cx="380.5" cy="334.5" r="2.6" fill="#d4beac" stroke="#9e826c" stroke-width="1.3"/><circle cx="396.8" cy="100.1" r="2.6" fill="#c1d5e9" stroke="#7593b6" stroke-width="1.3"/><circle cx="396.8" cy="225.2" r="2.6" fill="#f1ba97" stroke="#d79069" stroke-width="1.3"/><circle cx="396.8" cy="243.0" r="2.6" fill="#dbdbd9" stroke="#ababaa" stroke-width="1.3"/><circle cx="396.8" cy="251.3" r="2.6" fill="#f0e5b0" stroke="#d2bf76" stroke-width="1.3"/><circle cx="396.8" cy="255.8" r="2.6" fill="#c6c7e0" stroke="#8b8eb3" stroke-width="1.3"/><circle cx="396.8" cy="267.8" r="2.6" fill="#cadab9" stroke="#8ca777" stroke-width="1.3"/><circle cx="396.8" cy="272.2" r="2.6" fill="#c1d5e9" stroke="#7593b6" stroke-width="1.3"/><circle cx="396.8" cy="279.8" r="2.6" fill="#a4b1a0" stroke="#606e5b" stroke-width="1.3"/><circle cx="396.8" cy="286.2" r="2.6" fill="#cadab9" stroke="#8ca777" stroke-width="1.3"/><circle cx="396.8" cy="293.9" r="2.6" fill="#aaaca1" stroke="#66675e" stroke-width="1.3"/><circle cx="396.8" cy="302.0" r="2.6" fill="#e3d6bf" stroke="#b6a487" stroke-width="1.3"/><circle cx="396.8" cy="314.3" r="2.6" fill="#aaaca1" stroke="#66675e" stroke-width="1.3"/><circle cx="396.8" cy="334.5" r="2.6" fill="#aaaca1" stroke="#66675e" stroke-width="1.3"/><circle cx="413.0" cy="101.6" r="2.6" fill="#c1d5e9" stroke="#7593b6" stroke-width="1.3"/><circle cx="413.0" cy="266.4" r="2.6" fill="#f1ba97" stroke="#d79069" stroke-width="1.3"/><circle cx="413.0" cy="275.5" r="2.6" fill="#ced3db" stroke="#909cab" stroke-width="1.3"/><circle cx="413.0" cy="280.4" r="2.6" fill="#c1d5e9" stroke="#7593b6" stroke-width="1.3"/><circle cx="413.0" cy="286.2" r="2.6" fill="#abb7cc" stroke="#657695" stroke-width="1.3"/><circle cx="413.0" cy="293.9" r="2.6" fill="#aaaca1" stroke="#66675e" stroke-width="1.3"/><circle cx="413.0" cy="302.0" r="2.6" fill="#f0e5b0" stroke="#d2bf76" stroke-width="1.3"/><circle cx="413.0" cy="314.3" r="2.6" fill="#eef2f5" stroke="#bdc7d1" stroke-width="1.3"/><circle cx="413.0" cy="334.5" r="2.6" fill="#cadab9" stroke="#8ca777" stroke-width="1.3"/><circle cx="429.3" cy="87.7" r="2.6" fill="#c1d5e9" stroke="#7593b6" stroke-width="1.3"/><circle cx="429.3" cy="253.8" r="2.6" fill="#f1ba97" stroke="#d79069" stroke-width="1.3"/><circle cx="429.3" cy="272.2" r="2.6" fill="#dbdbd9" stroke="#ababaa" stroke-width="1.3"/><circle cx="429.3" cy="280.4" r="2.6" fill="#cadab9" stroke="#8ca777" stroke-width="1.3"/><circle cx="429.3" cy="286.2" r="2.6" fill="#aaaca1" stroke="#66675e" stroke-width="1.3"/><circle cx="429.3" cy="293.9" r="2.6" fill="#c6c7e0" stroke="#8b8eb3" stroke-width="1.3"/><circle cx="429.3" cy="302.0" r="2.6" fill="#abb7cc" stroke="#657695" stroke-width="1.3"/><circle cx="429.3" cy="314.3" r="2.6" fill="#dbdbd9" stroke="#ababaa" stroke-width="1.3"/><circle cx="429.3" cy="334.5" r="2.6" fill="#f0e5b0" stroke="#d2bf76" stroke-width="1.3"/><circle cx="445.6" cy="93.9" r="2.6" fill="#c1d5e9" stroke="#7593b6" stroke-width="1.3"/><circle cx="445.6" cy="224.2" r="2.6" fill="#f1ba97" stroke="#d79069" stroke-width="1.3"/><circle cx="445.6" cy="236.2" r="2.6" fill="#dbdbd9" stroke="#ababaa" stroke-width="1.3"/><circle cx="445.6" cy="270.7" r="2.6" fill="#f0e5b0" stroke="#d2bf76" stroke-width="1.3"/><circle cx="445.6" cy="276.5" r="2.6" fill="#c1d5e9" stroke="#7593b6" stroke-width="1.3"/><circle cx="445.6" cy="286.2" r="2.6" fill="#cadab9" stroke="#8ca777" stroke-width="1.3"/><circle cx="445.6" cy="293.9" r="2.6" fill="#abb7cc" stroke="#657695" stroke-width="1.3"/><circle cx="445.6" cy="302.0" r="2.6" fill="#cce2eb" stroke="#84abbb" stroke-width="1.3"/><circle cx="445.6" cy="314.3" r="2.6" fill="#eef2f5" stroke="#bdc7d1" stroke-width="1.3"/><circle cx="445.6" cy="334.5" r="2.6" fill="#cadab9" stroke="#8ca777" stroke-width="1.3"/><circle cx="461.8" cy="102.2" r="2.6" fill="#c1d5e9" stroke="#7593b6" stroke-width="1.3"/><circle cx="461.8" cy="203.5" r="2.6" fill="#f1ba97" stroke="#d79069" stroke-width="1.3"/><circle cx="461.8" cy="256.0" r="2.6" fill="#dbdbd9" stroke="#ababaa" stroke-width="1.3"/><circle cx="461.8" cy="261.0" r="2.6" fill="#f0e5b0" stroke="#d2bf76" stroke-width="1.3"/><circle cx="461.8" cy="272.6" r="2.6" fill="#cadab9" stroke="#8ca777" stroke-width="1.3"/><circle cx="461.8" cy="280.7" r="2.6" fill="#abb7cc" stroke="#657695" stroke-width="1.3"/><circle cx="461.8" cy="286.5" r="2.6" fill="#d4beac" stroke="#9e826c" stroke-width="1.3"/><circle cx="461.8" cy="293.3" r="2.6" fill="#e3d6bf" stroke="#b6a487" stroke-width="1.3"/><circle cx="461.8" cy="302.0" r="2.6" fill="#cce2eb" stroke="#84abbb" stroke-width="1.3"/><circle cx="461.8" cy="314.5" r="2.6" fill="#aaaca1" stroke="#66675e" stroke-width="1.3"/><circle cx="461.8" cy="334.6" r="2.6" fill="#dbdbd9" stroke="#ababaa" stroke-width="1.3"/><circle cx="478.1" cy="100.7" r="2.6" fill="#c1d5e9" stroke="#7593b6" stroke-width="1.3"/><circle cx="478.1" cy="198.7" r="2.6" fill="#f1ba97" stroke="#d79069" stroke-width="1.3"/><circle cx="478.1" cy="268.8" r="2.6" fill="#e3d6bf" stroke="#b6a487" stroke-width="1.3"/><circle cx="478.1" cy="276.1" r="2.6" fill="#a4b1a0" stroke="#606e5b" stroke-width="1.3"/><circle cx="478.1" cy="281.3" r="2.6" fill="#d4beac" stroke="#9e826c" stroke-width="1.3"/><circle cx="478.1" cy="293.1" r="2.6" fill="#aaaca1" stroke="#66675e" stroke-width="1.3"/><circle cx="478.1" cy="302.0" r="2.6" fill="#f1ba97" stroke="#d79069" stroke-width="1.3"/><circle cx="478.1" cy="314.5" r="2.6" fill="#f1ba97" stroke="#d79069" stroke-width="1.3"/><circle cx="478.1" cy="334.6" r="2.6" fill="#f1ba97" stroke="#d79069" stroke-width="1.3"/><circle cx="494.4" cy="95.4" r="2.6" fill="#c1d5e9" stroke="#7593b6" stroke-width="1.3"/><circle cx="494.4" cy="196.2" r="2.6" fill="#f1ba97" stroke="#d79069" stroke-width="1.3"/><circle cx="494.4" cy="257.4" r="2.6" fill="#e3d6bf" stroke="#b6a487" stroke-width="1.3"/><circle cx="494.4" cy="261.6" r="2.6" fill="#f0e5b0" stroke="#d2bf76" stroke-width="1.3"/><circle cx="494.4" cy="268.8" r="2.6" fill="#c1d5e9" stroke="#7593b6" stroke-width="1.3"/><circle cx="494.4" cy="280.7" r="2.6" fill="#c1d5e9" stroke="#7593b6" stroke-width="1.3"/><circle cx="494.4" cy="293.1" r="2.6" fill="#d4beac" stroke="#9e826c" stroke-width="1.3"/><circle cx="494.4" cy="302.0" r="2.6" fill="#f0e5b0" stroke="#d2bf76" stroke-width="1.3"/><circle cx="494.4" cy="314.5" r="2.6" fill="#abb7cc" stroke="#657695" stroke-width="1.3"/><circle cx="494.4" cy="334.6" r="2.6" fill="#dbdbd9" stroke="#ababaa" stroke-width="1.3"/>
<rect x="88.1" y="59.3" width="420.9" height="282.35" fill="none" stroke="#000" stroke-width="2"/>
<g font-family="Liberation Sans, sans-serif"><line x1="83.6" y1="335.00" x2="88" y2="335.00" stroke="#000" stroke-width="1.8"/><text x="78.4" y="339.00" text-anchor="end" font-size="12.7" fill="#1a1a1a">1</text><line x1="83.6" y1="314.27" x2="88" y2="314.27" stroke="#000" stroke-width="1.8"/><text x="78.4" y="318.27" text-anchor="end" font-size="12.7" fill="#1a1a1a">2</text><line x1="83.6" y1="293.54" x2="88" y2="293.54" stroke="#000" stroke-width="1.8"/><text x="78.4" y="297.54" text-anchor="end" font-size="12.7" fill="#1a1a1a">4</text><line x1="83.6" y1="272.81" x2="88" y2="272.81" stroke="#000" stroke-width="1.8"/><text x="78.4" y="276.81" text-anchor="end" font-size="12.7" fill="#1a1a1a">8</text><line x1="83.6" y1="252.08" x2="88" y2="252.08" stroke="#000" stroke-width="1.8"/><text x="78.4" y="256.08" text-anchor="end" font-size="12.7" fill="#1a1a1a">16</text><line x1="83.6" y1="231.35" x2="88" y2="231.35" stroke="#000" stroke-width="1.8"/><text x="78.4" y="235.35" text-anchor="end" font-size="12.7" fill="#1a1a1a">32</text><line x1="83.6" y1="210.62" x2="88" y2="210.62" stroke="#000" stroke-width="1.8"/><text x="78.4" y="214.62" text-anchor="end" font-size="12.7" fill="#1a1a1a">64</text><line x1="83.6" y1="189.89" x2="88" y2="189.89" stroke="#000" stroke-width="1.8"/><text x="78.4" y="193.89" text-anchor="end" font-size="12.7" fill="#1a1a1a">128</text><line x1="83.6" y1="169.16" x2="88" y2="169.16" stroke="#000" stroke-width="1.8"/><text x="78.4" y="173.16" text-anchor="end" font-size="12.7" fill="#1a1a1a">256</text><line x1="83.6" y1="148.43" x2="88" y2="148.43" stroke="#000" stroke-width="1.8"/><text x="78.4" y="152.43" text-anchor="end" font-size="12.7" fill="#1a1a1a">512</text><line x1="83.6" y1="127.70" x2="88" y2="127.70" stroke="#000" stroke-width="1.8"/><text x="78.4" y="131.70" text-anchor="end" font-size="12.7" fill="#1a1a1a">1024</text><line x1="83.6" y1="106.97" x2="88" y2="106.97" stroke="#000" stroke-width="1.8"/><text x="78.4" y="110.97" text-anchor="end" font-size="12.7" fill="#1a1a1a">2048</text><line x1="83.6" y1="86.24" x2="88" y2="86.24" stroke="#000" stroke-width="1.8"/><text x="78.4" y="90.24" text-anchor="end" font-size="12.7" fill="#1a1a1a">4096</text><line x1="83.6" y1="65.51" x2="88" y2="65.51" stroke="#000" stroke-width="1.8"/><text x="78.4" y="69.51" text-anchor="end" font-size="12.7" fill="#1a1a1a">8192</text></g>
<text x="95.3" y="47.9" font-size="14.5" fill="#111" font-family="Liberation Sans, sans-serif" textLength="156.5" lengthAdjust="spacingAndGlyphs">ACs without progression</text>
<text x="316.6" y="47.9" font-size="14.5" fill="#111" font-family="Liberation Sans, sans-serif" textLength="136.4" lengthAdjust="spacingAndGlyphs">ACs with progression</text>
<text x="10.6" y="26.3" font-size="17.5" font-weight="bold" fill="#000" font-family="Liberation Sans, sans-serif" textLength="13" lengthAdjust="spacingAndGlyphs">A</text>
<text transform="translate(41.2,225.8) rotate(-90)" font-size="13.5" font-weight="bold" fill="#222" font-family="Liberation Sans, sans-serif" textLength="50" lengthAdjust="spacingAndGlyphs">Clone sizes</text>
<g font-family="Liberation Sans, sans-serif"><line x1="92.8" y1="347" x2="117.9" y2="347" stroke="#000" stroke-width="2"/><text x="105" y="362.3" text-anchor="middle" font-size="12" fill="#1a1a1a">P1</text><line x1="130.8" y1="347" x2="156.3" y2="347" stroke="#000" stroke-width="2"/><text x="144" y="362.3" text-anchor="middle" font-size="12" fill="#1a1a1a">P2</text><line x1="165.3" y1="347" x2="190.7" y2="347" stroke="#000" stroke-width="2"/><text x="178" y="362.3" text-anchor="middle" font-size="12" fill="#1a1a1a">P3</text><line x1="197.7" y1="347" x2="223" y2="347" stroke="#000" stroke-width="2"/><text x="210.3" y="362.3" text-anchor="middle" font-size="12" fill="#1a1a1a">P4</text><line x1="229.4" y1="347" x2="254.6" y2="347" stroke="#000" stroke-width="2"/><text x="242.5" y="362.3" text-anchor="middle" font-size="12" fill="#1a1a1a">P5</text><line x1="262" y1="347" x2="317.5" y2="347" stroke="#000" stroke-width="2"/><text x="289.6" y="362.3" text-anchor="middle" font-size="12" fill="#1a1a1a">P6</text><line x1="325.8" y1="347" x2="384.3" y2="347" stroke="#000" stroke-width="2"/><text x="354.8" y="362.3" text-anchor="middle" font-size="12" fill="#1a1a1a">P7</text><line x1="391.8" y1="347" x2="448" y2="347" stroke="#000" stroke-width="2"/><text x="420.2" y="362.3" text-anchor="middle" font-size="12" fill="#1a1a1a">P8</text><line x1="455.9" y1="347" x2="505.8" y2="347" stroke="#000" stroke-width="2"/><text x="481" y="362.3" text-anchor="middle" font-size="12" fill="#1a1a1a">P9</text></g>
<text x="11.2" y="404.6" font-size="17.5" font-weight="bold" fill="#000" font-family="Liberation Sans, sans-serif" textLength="12" lengthAdjust="spacingAndGlyphs">B</text>
<g font-family="Liberation Sans, sans-serif"><line x1="62.5" y1="686.10" x2="67.5" y2="686.10" stroke="#000" stroke-width="1.5"/><line x1="164.8" y1="686.10" x2="169.8" y2="686.10" stroke="#000" stroke-width="1.5"/><text x="57.3" y="690.10" text-anchor="end" font-size="12.7" fill="#1a1a1a">0</text><line x1="64.9" y1="677.12" x2="67.5" y2="677.12" stroke="#000" stroke-width="1.4"/><line x1="164.8" y1="677.12" x2="167.4" y2="677.12" stroke="#000" stroke-width="1.4"/><line x1="64.9" y1="668.14" x2="67.5" y2="668.14" stroke="#000" stroke-width="1.4"/><line x1="164.8" y1="668.14" x2="167.4" y2="668.14" stroke="#000" stroke-width="1.4"/><line x1="64.9" y1="659.16" x2="67.5" y2="659.16" stroke="#000" stroke-width="1.4"/><line x1="164.8" y1="659.16" x2="167.4" y2="659.16" stroke="#000" stroke-width="1.4"/><line x1="64.9" y1="650.18" x2="67.5" y2="650.18" stroke="#000" stroke-width="1.4"/><line x1="164.8" y1="650.18" x2="167.4" y2="650.18" stroke="#000" stroke-width="1.4"/><line x1="62.5" y1="641.20" x2="67.5" y2="641.20" stroke="#000" stroke-width="1.5"/><line x1="164.8" y1="641.20" x2="169.8" y2="641.20" stroke="#000" stroke-width="1.5"/><text x="57.3" y="645.20" text-anchor="end" font-size="12.7" fill="#1a1a1a">500</text><line x1="64.9" y1="632.22" x2="67.5" y2="632.22" stroke="#000" stroke-width="1.4"/><line x1="164.8" y1="632.22" x2="167.4" y2="632.22" stroke="#000" stroke-width="1.4"/><line x1="64.9" y1="623.24" x2="67.5" y2="623.24" stroke="#000" stroke-width="1.4"/><line x1="164.8" y1="623.24" x2="167.4" y2="623.24" stroke="#000" stroke-width="1.4"/><line x1="64.9" y1="614.26" x2="67.5" y2="614.26" stroke="#000" stroke-width="1.4"/><line x1="164.8" y1="614.26" x2="167.4" y2="614.26" stroke="#000" stroke-width="1.4"/><line x1="64.9" y1="605.28" x2="67.5" y2="605.28" stroke="#000" stroke-width="1.4"/><line x1="164.8" y1="605.28" x2="167.4" y2="605.28" stroke="#000" stroke-width="1.4"/><line x1="62.5" y1="596.30" x2="67.5" y2="596.30" stroke="#000" stroke-width="1.5"/><line x1="164.8" y1="596.30" x2="169.8" y2="596.30" stroke="#000" stroke-width="1.5"/><text x="57.3" y="600.30" text-anchor="end" font-size="12.7" fill="#1a1a1a">1000</text><line x1="64.9" y1="587.32" x2="67.5" y2="587.32" stroke="#000" stroke-width="1.4"/><line x1="164.8" y1="587.32" x2="167.4" y2="587.32" stroke="#000" stroke-width="1.4"/><line x1="64.9" y1="578.34" x2="67.5" y2="578.34" stroke="#000" stroke-width="1.4"/><line x1="164.8" y1="578.34" x2="167.4" y2="578.34" stroke="#000" stroke-width="1.4"/><line x1="64.9" y1="569.36" x2="67.5" y2="569.36" stroke="#000" stroke-width="1.4"/><line x1="164.8" y1="569.36" x2="167.4" y2="569.36" stroke="#000" stroke-width="1.4"/><line x1="64.9" y1="560.38" x2="67.5" y2="560.38" stroke="#000" stroke-width="1.4"/><line x1="164.8" y1="560.38" x2="167.4" y2="560.38" stroke="#000" stroke-width="1.4"/><line x1="62.5" y1="551.40" x2="67.5" y2="551.40" stroke="#000" stroke-width="1.5"/><line x1="164.8" y1="551.40" x2="169.8" y2="551.40" stroke="#000" stroke-width="1.5"/><text x="57.3" y="555.40" text-anchor="end" font-size="12.7" fill="#1a1a1a">1500</text><line x1="64.9" y1="542.42" x2="67.5" y2="542.42" stroke="#000" stroke-width="1.4"/><line x1="164.8" y1="542.42" x2="167.4" y2="542.42" stroke="#000" stroke-width="1.4"/><line x1="64.9" y1="533.44" x2="67.5" y2="533.44" stroke="#000" stroke-width="1.4"/><line x1="164.8" y1="533.44" x2="167.4" y2="533.44" stroke="#000" stroke-width="1.4"/><line x1="64.9" y1="524.46" x2="67.5" y2="524.46" stroke="#000" stroke-width="1.4"/><line x1="164.8" y1="524.46" x2="167.4" y2="524.46" stroke="#000" stroke-width="1.4"/><line x1="64.9" y1="515.48" x2="67.5" y2="515.48" stroke="#000" stroke-width="1.4"/><line x1="164.8" y1="515.48" x2="167.4" y2="515.48" stroke="#000" stroke-width="1.4"/><line x1="62.5" y1="506.50" x2="67.5" y2="506.50" stroke="#000" stroke-width="1.5"/><line x1="164.8" y1="506.50" x2="169.8" y2="506.50" stroke="#000" stroke-width="1.5"/><text x="57.3" y="510.50" text-anchor="end" font-size="12.7" fill="#1a1a1a">2000</text><line x1="64.9" y1="497.52" x2="67.5" y2="497.52" stroke="#000" stroke-width="1.4"/><line x1="164.8" y1="497.52" x2="167.4" y2="497.52" stroke="#000" stroke-width="1.4"/><line x1="64.9" y1="488.54" x2="67.5" y2="488.54" stroke="#000" stroke-width="1.4"/><line x1="164.8" y1="488.54" x2="167.4" y2="488.54" stroke="#000" stroke-width="1.4"/><line x1="64.9" y1="479.56" x2="67.5" y2="479.56" stroke="#000" stroke-width="1.4"/><line x1="164.8" y1="479.56" x2="167.4" y2="479.56" stroke="#000" stroke-width="1.4"/><line x1="64.9" y1="470.58" x2="67.5" y2="470.58" stroke="#000" stroke-width="1.4"/><line x1="164.8" y1="470.58" x2="167.4" y2="470.58" stroke="#000" stroke-width="1.4"/><line x1="62.5" y1="461.60" x2="67.5" y2="461.60" stroke="#000" stroke-width="1.5"/><line x1="164.8" y1="461.60" x2="169.8" y2="461.60" stroke="#000" stroke-width="1.5"/><text x="57.3" y="465.60" text-anchor="end" font-size="12.7" fill="#1a1a1a">2500</text><line x1="64.9" y1="452.62" x2="67.5" y2="452.62" stroke="#000" stroke-width="1.4"/><line x1="164.8" y1="452.62" x2="167.4" y2="452.62" stroke="#000" stroke-width="1.4"/></g>
<rect x="67.5" y="444" width="97.3" height="249.3" fill="none" stroke="#000" stroke-width="2"/>
<polyline points="78.7,443 78.7,426.4 149.1,426.4 149.1,443" fill="none" stroke="#000" stroke-width="1.5"/>
<polygon points="113.50,415.40 114.35,417.43 116.54,417.61 114.88,419.05 115.38,421.19 113.50,420.05 111.62,421.19 112.12,419.05 110.46,417.61 112.65,417.43" fill="#111"/>
<polygon points="168.00,419.50 168.68,420.87 170.19,421.09 169.09,422.16 169.35,423.66 168.00,422.95 166.65,423.66 166.91,422.16 165.81,421.09 167.32,420.87" fill="#111"/>
<text x="171" y="427.9" font-size="11.2" fill="#1a1a1a" font-family="Liberation Sans, sans-serif" textLength="52.5" lengthAdjust="spacingAndGlyphs">P &lt;0.0001</text>
<text x="176.8" y="454.8" font-size="10.8" fill="#1a1a1a" font-family="Liberation Sans, sans-serif" textLength="26.8" lengthAdjust="spacingAndGlyphs">T-test</text>
<text transform="translate(19.9,584.1) rotate(-90)" font-size="11.3" font-weight="bold" fill="#222" font-family="Liberation Sans, sans-serif" textLength="44.7" lengthAdjust="spacingAndGlyphs">Clone size</text>
<text x="92.1" y="708.8" text-anchor="middle" font-size="11" fill="#1a1a1a" font-family="Liberation Sans, sans-serif">A</text>
<text x="139.5" y="708.8" text-anchor="middle" font-size="11" fill="#1a1a1a" font-family="Liberation Sans, sans-serif">B</text>
<g fill="none" stroke="#6c9a4c" stroke-width="1.4"><rect x="75.6" y="649.4" width="32.6" height="28.1"/><line x1="75.6" y1="674.2" x2="108.2" y2="674.2"/><line x1="88.3" y1="648.1" x2="95.8" y2="648.1" stroke-width="1.8"/><line x1="88.3" y1="679.6" x2="95.8" y2="679.6" stroke-width="1.8"/></g>
<g fill="none" stroke="#7e1738" stroke-width="1.7"><rect x="122.7" y="458" width="32.5" height="74.5"/><line x1="122.7" y1="494.6" x2="155.2" y2="494.6"/><line x1="139" y1="455" x2="139" y2="458"/><line x1="135.2" y1="455" x2="142.8" y2="455" stroke-width="1.8"/><line x1="139" y1="532.5" x2="139" y2="537.3"/><line x1="135.2" y1="537.3" x2="142.8" y2="537.3" stroke-width="1.8"/></g>
<text x="307.2" y="479.3" text-anchor="middle" font-size="12.8" fill="#1a1a1a" font-family="Liberation Sans, sans-serif" textLength="106" lengthAdjust="spacingAndGlyphs">First top clone size</text>
<text x="306.9" y="495.6" text-anchor="middle" font-size="12.8" fill="#1a1a1a" font-family="Liberation Sans, sans-serif" textLength="123.8" lengthAdjust="spacingAndGlyphs">at the initial time point</text>
<rect x="223.8" y="504.70" width="40.8" height="88.74" fill="#dfeadb"/>
<rect x="223.8" y="593.94" width="40.8" height="70.76" fill="#f8e2d8"/>
<g font-family="Liberation Sans, sans-serif"><line x1="264.6" y1="521.89" x2="391.2" y2="521.89" stroke="#000" stroke-width="1.6"/><line x1="264.6" y1="539.78" x2="391.2" y2="539.78" stroke="#000" stroke-width="1.6"/><line x1="264.6" y1="557.67" x2="391.2" y2="557.67" stroke="#000" stroke-width="1.6"/><line x1="264.6" y1="575.56" x2="391.2" y2="575.56" stroke="#000" stroke-width="1.6"/><line x1="223" y1="593.44" x2="391.2" y2="593.44" stroke="#000" stroke-width="1.4"/><line x1="264.6" y1="611.33" x2="391.2" y2="611.33" stroke="#000" stroke-width="1.6"/><line x1="264.6" y1="629.22" x2="391.2" y2="629.22" stroke="#000" stroke-width="1.6"/><line x1="264.6" y1="647.11" x2="391.2" y2="647.11" stroke="#000" stroke-width="1.6"/><line x1="264.6" y1="504" x2="264.6" y2="665" stroke="#000" stroke-width="1.6"/><line x1="306.2" y1="504" x2="306.2" y2="665" stroke="#000" stroke-width="1.6"/><rect x="223" y="504" width="168.2" height="161" fill="none" stroke="#000" stroke-width="1.6"/><text x="284.8" y="516.19" text-anchor="middle" font-size="11.3" fill="#2a2a2a" textLength="21.6" lengthAdjust="spacingAndGlyphs">P1-1</text><text x="348.7" y="516.34" text-anchor="middle" font-size="11.8" fill="#2a2a2a">46</text><text x="284.8" y="534.08" text-anchor="middle" font-size="11.3" fill="#2a2a2a" textLength="21.6" lengthAdjust="spacingAndGlyphs">P2-1</text><text x="348.7" y="534.23" text-anchor="middle" font-size="11.8" fill="#2a2a2a">357</text><text x="284.8" y="551.97" text-anchor="middle" font-size="11.3" fill="#2a2a2a" textLength="21.6" lengthAdjust="spacingAndGlyphs">P3-1</text><text x="348.7" y="552.12" text-anchor="middle" font-size="11.8" fill="#2a2a2a">105</text><text x="284.8" y="569.86" text-anchor="middle" font-size="11.3" fill="#2a2a2a" textLength="21.6" lengthAdjust="spacingAndGlyphs">P4-1</text><text x="348.7" y="570.01" text-anchor="middle" font-size="11.8" fill="#2a2a2a">77</text><text x="284.8" y="587.75" text-anchor="middle" font-size="11.3" fill="#2a2a2a" textLength="21.6" lengthAdjust="spacingAndGlyphs">P5-1</text><text x="348.7" y="587.90" text-anchor="middle" font-size="11.8" fill="#2a2a2a">388</text><text x="284.8" y="605.64" text-anchor="middle" font-size="11.3" fill="#2a2a2a" textLength="21.6" lengthAdjust="spacingAndGlyphs">P6-1</text><text x="348.7" y="605.79" text-anchor="middle" font-size="11.8" fill="#2a2a2a">1852</text><text x="284.8" y="623.53" text-anchor="middle" font-size="11.3" fill="#2a2a2a" textLength="21.6" lengthAdjust="spacingAndGlyphs">P7-1</text><text x="348.7" y="623.68" text-anchor="middle" font-size="11.8" fill="#2a2a2a">1655</text><text x="284.8" y="641.42" text-anchor="middle" font-size="11.3" fill="#2a2a2a" textLength="21.6" lengthAdjust="spacingAndGlyphs">P8-1</text><text x="348.7" y="641.57" text-anchor="middle" font-size="11.8" fill="#2a2a2a">2572</text><text x="284.8" y="659.31" text-anchor="middle" font-size="11.3" fill="#2a2a2a" textLength="21.6" lengthAdjust="spacingAndGlyphs">P9-1</text><text x="348.7" y="659.46" text-anchor="middle" font-size="11.8" fill="#2a2a2a">2392</text></g>
<text transform="translate(249.4,548.2) rotate(-90)" text-anchor="middle" font-size="13.4" fill="#1a1a1a" font-family="Liberation Sans, sans-serif">GROUP-A</text>
<text transform="translate(249.4,628.8) rotate(-90)" text-anchor="middle" font-size="13.4" fill="#1a1a1a" font-family="Liberation Sans, sans-serif">GROUP-B</text>
<rect x="1" y="1" width="518" height="721" fill="none" stroke="#000" stroke-width="2"/>
</svg>
</body></html>
